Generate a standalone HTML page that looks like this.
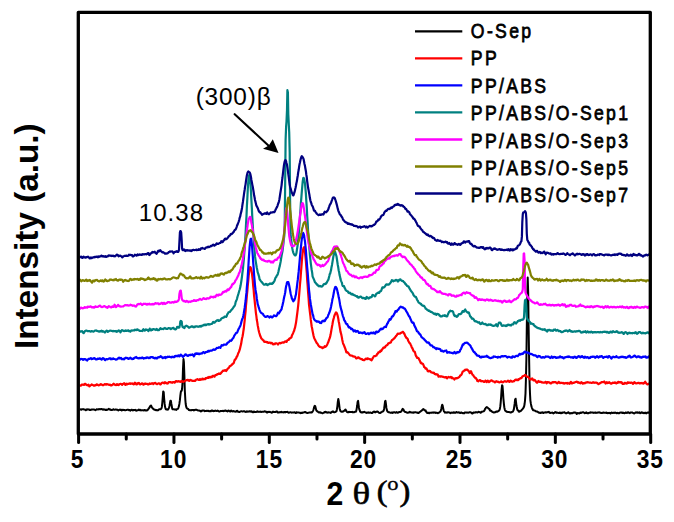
<!DOCTYPE html>
<html><head><meta charset="utf-8"><style>
html,body{margin:0;padding:0;background:#fff;overflow:hidden;}
svg{display:block;}
text{font-family:"Liberation Sans",sans-serif;}
.sf{font-family:"Liberation Serif",serif;}
</style></head><body>
<svg width="674" height="522" viewBox="0 0 674 522">
<polyline fill="none" stroke="#000000" stroke-width="2.0" stroke-linejoin="round" points="79.5,409.6 80.0,409.5 80.4,409.4 80.9,409.3 81.3,409.6 81.8,409.2 82.2,409.2 82.7,409.2 83.1,409.1 83.6,409.4 84.0,409.5 84.5,409.4 84.9,409.6 85.4,409.9 85.8,410.3 86.3,409.6 86.7,409.8 87.2,409.3 87.6,409.6 88.1,409.3 88.5,409.5 89.0,409.5 89.4,409.7 89.9,410.1 90.3,410.0 90.8,409.8 91.2,409.7 91.7,409.5 92.1,409.6 92.6,409.5 93.0,409.4 93.5,409.5 93.9,409.4 94.4,409.7 94.8,409.9 95.3,410.1 95.7,410.2 96.2,409.6 96.6,409.2 97.1,409.3 97.5,409.4 98.0,409.5 98.4,409.3 98.9,409.0 99.3,409.2 99.8,409.2 100.2,409.3 100.7,409.2 101.1,409.0 101.6,409.0 102.0,409.3 102.5,409.5 102.9,409.7 103.4,409.5 103.8,409.2 104.3,409.5 104.7,409.6 105.2,409.9 105.6,409.9 106.1,409.6 106.5,409.9 107.0,409.9 107.4,409.8 107.9,409.5 108.3,409.1 108.8,408.8 109.2,409.2 109.7,409.4 110.1,409.7 110.6,409.6 111.0,409.9 111.5,409.9 111.9,409.9 112.4,409.9 112.8,409.8 113.3,409.2 113.7,409.4 114.2,409.6 114.6,409.7 115.1,409.7 115.5,409.5 116.0,409.5 116.4,409.7 116.9,409.7 117.3,409.8 117.8,409.8 118.2,410.4 118.7,410.3 119.1,410.0 119.6,409.7 120.0,409.6 120.5,410.0 120.9,410.0 121.4,409.8 121.8,410.4 122.3,410.0 122.7,409.8 123.2,409.7 123.6,410.0 124.1,409.9 124.5,410.0 125.0,410.3 125.4,410.3 125.9,410.1 126.3,410.0 126.8,409.9 127.2,409.8 127.7,409.7 128.1,409.7 128.6,409.9 129.0,410.2 129.5,410.1 129.9,410.4 130.4,410.7 130.8,410.2 131.3,409.9 131.7,409.7 132.2,409.9 132.6,410.4 133.1,410.2 133.5,410.0 134.0,410.2 134.4,410.0 134.9,410.0 135.3,409.8 135.8,410.4 136.2,410.7 136.7,410.6 137.1,410.3 137.6,410.3 138.0,410.2 138.5,409.9 138.9,409.6 139.4,409.9 139.8,410.2 140.3,409.8 140.7,410.3 141.2,410.4 141.6,410.3 142.1,410.3 142.5,410.3 143.0,410.3 143.4,410.4 143.9,410.4 144.3,410.1 144.8,410.0 145.2,410.3 145.7,410.5 146.1,410.3 146.6,410.4 147.0,410.4 147.5,410.2 147.9,409.5 148.4,409.1 148.8,408.3 149.3,407.9 149.7,407.0 150.2,406.2 150.6,405.7 151.1,405.6 151.5,406.5 152.0,407.6 152.4,408.0 152.9,408.3 153.3,409.1 153.8,409.4 154.2,409.6 154.7,409.6 155.1,409.9 155.6,409.9 156.0,410.2 156.5,410.1 156.9,410.2 157.4,410.4 157.8,410.3 158.3,410.2 158.7,409.7 159.2,409.2 159.6,409.3 160.1,409.2 160.5,409.3 161.0,409.0 161.4,408.5 161.9,406.7 162.3,402.9 162.8,396.9 163.2,391.5 163.7,392.1 164.1,398.1 164.6,403.4 165.0,406.6 165.5,408.5 165.9,409.4 166.4,409.6 166.8,409.5 167.3,409.5 167.7,409.7 168.2,409.2 168.6,408.6 169.1,407.6 169.5,405.8 170.0,403.0 170.4,400.8 170.9,400.8 171.3,403.5 171.8,406.3 172.2,408.6 172.7,409.3 173.1,409.3 173.6,409.3 174.0,409.4 174.5,409.6 174.9,409.3 175.4,409.5 175.8,409.6 176.3,409.9 176.7,409.4 177.2,409.0 177.6,408.9 178.1,408.6 178.5,407.5 179.0,405.9 179.4,403.7 179.9,400.2 180.3,396.0 180.8,392.1 181.2,390.9 181.7,390.8 182.1,388.5 182.6,381.3 183.0,368.8 183.5,359.0 183.9,362.2 184.4,376.4 184.8,390.3 185.3,399.3 185.7,404.0 186.2,406.7 186.6,407.8 187.1,408.5 187.5,408.7 188.0,409.0 188.4,409.2 188.9,410.1 189.3,410.1 189.8,410.2 190.2,410.3 190.7,410.1 191.1,410.0 191.6,410.3 192.0,410.0 192.5,409.9 192.9,409.9 193.4,409.9 193.8,410.5 194.3,410.1 194.7,410.1 195.2,409.8 195.6,409.7 196.1,409.7 196.5,409.8 197.0,410.0 197.4,410.2 197.9,410.4 198.3,410.6 198.8,410.6 199.2,410.6 199.7,410.7 200.1,410.8 200.6,411.4 201.0,411.5 201.5,411.2 201.9,410.8 202.4,410.4 202.8,410.4 203.3,410.5 203.7,410.4 204.2,410.7 204.6,411.2 205.1,410.9 205.5,410.9 206.0,411.1 206.4,411.0 206.9,410.7 207.3,410.8 207.8,410.9 208.2,410.8 208.7,410.9 209.1,411.3 209.6,411.1 210.0,411.2 210.5,411.1 210.9,411.3 211.4,410.5 211.8,410.5 212.3,410.6 212.7,410.9 213.2,411.0 213.6,411.2 214.1,410.8 214.5,411.1 215.0,410.8 215.4,410.6 215.9,410.8 216.3,410.9 216.8,410.9 217.2,410.9 217.7,410.6 218.1,410.8 218.6,411.2 219.0,411.5 219.5,411.6 219.9,411.3 220.4,411.0 220.8,411.1 221.3,411.1 221.7,411.0 222.2,411.1 222.6,410.9 223.1,410.7 223.5,411.2 224.0,411.1 224.4,410.9 224.9,410.6 225.3,410.6 225.8,410.6 226.2,410.9 226.7,411.0 227.1,411.3 227.6,411.4 228.0,410.8 228.5,410.6 228.9,410.6 229.4,411.1 229.8,411.4 230.3,411.6 230.7,411.0 231.2,410.5 231.6,410.8 232.1,411.4 232.5,411.5 233.0,411.2 233.4,411.1 233.9,411.1 234.3,411.6 234.8,411.6 235.2,411.6 235.7,411.7 236.1,411.7 236.6,411.0 237.0,410.8 237.5,411.0 237.9,411.7 238.4,411.8 238.8,411.9 239.3,412.0 239.7,411.8 240.2,411.6 240.6,411.5 241.1,411.2 241.5,411.2 242.0,411.4 242.4,411.5 242.9,411.5 243.3,411.2 243.8,411.3 244.2,411.3 244.7,411.5 245.1,411.7 245.6,411.9 246.0,411.9 246.5,411.5 246.9,411.3 247.4,411.4 247.8,411.8 248.3,411.6 248.7,411.6 249.2,411.3 249.6,411.5 250.1,411.3 250.5,411.4 251.0,411.7 251.4,411.3 251.9,411.4 252.3,411.9 252.8,412.3 253.2,412.2 253.7,411.7 254.1,411.5 254.6,411.9 255.0,412.1 255.5,412.1 255.9,412.1 256.4,411.8 256.8,411.8 257.3,411.4 257.7,411.7 258.2,411.9 258.6,411.8 259.1,411.7 259.5,411.7 260.0,411.9 260.4,411.6 260.9,411.8 261.3,411.9 261.8,411.9 262.2,411.7 262.7,411.8 263.1,411.8 263.6,411.8 264.0,411.6 264.5,411.3 264.9,411.4 265.4,411.7 265.8,411.5 266.3,411.9 266.7,412.4 267.2,412.5 267.6,412.3 268.1,411.8 268.5,411.9 269.0,412.0 269.4,411.9 269.9,411.8 270.3,412.1 270.8,412.2 271.2,412.4 271.7,412.8 272.1,412.3 272.6,412.2 273.0,411.6 273.5,411.9 273.9,411.9 274.4,411.9 274.8,412.0 275.3,412.0 275.7,411.8 276.2,411.7 276.6,411.4 277.1,411.5 277.5,412.3 278.0,412.6 278.4,412.4 278.9,412.3 279.3,412.4 279.8,412.2 280.2,412.2 280.7,412.1 281.1,412.2 281.6,411.8 282.0,412.3 282.5,412.3 282.9,412.2 283.4,412.4 283.8,412.1 284.3,411.9 284.7,412.1 285.2,412.4 285.6,412.3 286.1,411.9 286.5,411.9 287.0,412.0 287.4,411.8 287.9,412.2 288.3,412.6 288.8,412.8 289.2,412.5 289.7,412.4 290.1,412.3 290.6,412.3 291.0,412.4 291.5,412.7 291.9,412.5 292.4,412.5 292.8,412.5 293.3,412.4 293.7,412.6 294.2,412.2 294.6,412.4 295.1,412.4 295.5,412.9 296.0,413.0 296.4,412.3 296.9,412.3 297.3,412.5 297.8,412.5 298.2,412.6 298.7,412.5 299.1,412.6 299.6,412.7 300.0,412.7 300.5,413.1 300.9,412.7 301.4,413.0 301.8,412.7 302.3,412.9 302.7,412.7 303.2,412.6 303.6,412.6 304.1,412.3 304.5,412.1 305.0,411.9 305.4,412.0 305.9,412.3 306.3,412.7 306.8,412.9 307.2,413.0 307.7,412.9 308.1,412.8 308.6,412.7 309.0,412.6 309.5,412.4 309.9,412.5 310.4,412.5 310.8,412.5 311.3,412.3 311.7,412.5 312.2,412.0 312.6,411.6 313.1,410.6 313.5,409.5 314.0,407.9 314.4,406.2 314.9,405.8 315.3,406.4 315.8,408.4 316.2,410.1 316.7,410.8 317.1,411.2 317.6,411.4 318.0,411.9 318.5,412.4 318.9,412.5 319.4,412.3 319.8,412.5 320.3,412.3 320.7,412.8 321.2,412.7 321.6,412.9 322.1,413.1 322.5,413.3 323.0,413.0 323.4,412.9 323.9,412.7 324.3,412.1 324.8,411.9 325.2,412.2 325.7,411.7 326.1,412.1 326.6,412.2 327.0,412.8 327.5,412.6 327.9,412.4 328.4,412.2 328.8,412.5 329.3,412.5 329.7,412.6 330.2,412.5 330.6,412.9 331.1,412.5 331.5,412.3 332.0,411.8 332.4,411.9 332.9,411.3 333.3,411.7 333.8,412.1 334.2,412.3 334.7,412.2 335.1,412.1 335.6,411.7 336.0,411.6 336.5,411.2 336.9,409.4 337.4,406.1 337.8,401.9 338.3,399.0 338.7,401.0 339.2,404.9 339.6,408.2 340.1,410.2 340.5,411.1 341.0,411.5 341.4,411.7 341.9,411.7 342.3,411.8 342.8,411.4 343.2,411.6 343.7,411.1 344.1,410.8 344.6,410.6 345.0,410.0 345.5,409.5 345.9,410.4 346.4,411.2 346.8,411.7 347.3,412.1 347.7,412.3 348.2,412.0 348.6,412.3 349.1,411.7 349.5,412.0 350.0,412.1 350.4,412.1 350.9,412.1 351.3,412.1 351.8,412.0 352.2,412.2 352.7,411.9 353.1,412.3 353.6,412.3 354.0,412.2 354.5,412.0 354.9,411.7 355.4,411.7 355.8,411.7 356.3,410.8 356.7,408.6 357.2,405.5 357.6,401.9 358.1,400.9 358.5,404.3 359.0,408.0 359.4,409.7 359.9,411.0 360.3,411.8 360.8,412.3 361.2,412.4 361.7,412.3 362.1,412.4 362.6,412.3 363.0,412.4 363.5,412.1 363.9,412.1 364.4,411.8 364.8,412.1 365.3,412.4 365.7,412.5 366.2,412.7 366.6,412.9 367.1,412.8 367.5,412.6 368.0,412.5 368.4,412.7 368.9,412.5 369.3,412.8 369.8,412.6 370.2,412.4 370.7,412.6 371.1,412.8 371.6,413.1 372.0,412.8 372.5,412.9 372.9,412.3 373.4,411.8 373.8,411.7 374.3,411.6 374.7,412.1 375.2,412.4 375.6,412.2 376.1,411.7 376.5,411.6 377.0,411.8 377.4,411.4 377.9,411.6 378.3,412.1 378.8,412.7 379.2,412.8 379.7,412.9 380.1,413.0 380.6,412.8 381.0,412.4 381.5,412.1 381.9,411.9 382.4,411.5 382.8,411.5 383.3,411.1 383.7,410.5 384.2,408.2 384.6,405.0 385.1,401.2 385.5,400.9 386.0,404.4 386.4,407.9 386.9,410.2 387.3,411.2 387.8,411.7 388.2,412.2 388.7,412.2 389.1,412.2 389.6,412.4 390.0,412.6 390.5,412.8 390.9,412.7 391.4,412.7 391.8,412.5 392.3,412.6 392.7,412.9 393.2,412.3 393.6,412.4 394.1,412.3 394.5,412.2 395.0,412.4 395.4,412.7 395.9,412.6 396.3,412.4 396.8,412.0 397.2,412.5 397.7,412.7 398.1,412.7 398.6,412.4 399.0,412.1 399.5,412.1 399.9,412.0 400.4,412.1 400.8,411.8 401.3,411.4 401.7,410.7 402.2,409.6 402.6,408.9 403.1,409.1 403.5,409.6 404.0,410.8 404.4,411.3 404.9,411.9 405.3,412.0 405.8,412.1 406.2,412.2 406.7,412.5 407.1,412.7 407.6,412.8 408.0,412.7 408.5,412.6 408.9,412.6 409.4,412.0 409.8,411.7 410.3,412.1 410.7,412.3 411.2,412.5 411.6,412.5 412.1,412.4 412.5,412.4 413.0,412.8 413.4,412.7 413.9,412.3 414.3,412.4 414.8,412.3 415.2,412.2 415.7,412.3 416.1,412.4 416.6,412.5 417.0,412.5 417.5,412.7 417.9,412.9 418.4,413.0 418.8,412.8 419.3,412.4 419.7,411.9 420.2,411.7 420.6,411.4 421.1,411.0 421.5,410.9 422.0,410.4 422.4,409.6 422.9,409.4 423.3,409.1 423.8,409.4 424.2,410.0 424.7,410.4 425.1,410.6 425.6,410.4 426.0,411.5 426.5,412.3 426.9,412.7 427.4,412.8 427.8,413.0 428.3,412.8 428.7,412.7 429.2,413.2 429.6,412.8 430.1,412.7 430.5,412.8 431.0,412.8 431.4,412.6 431.9,412.8 432.3,412.6 432.8,412.6 433.2,412.6 433.7,412.7 434.1,412.4 434.6,412.6 435.0,412.5 435.5,412.9 435.9,412.5 436.4,412.8 436.8,412.8 437.3,413.0 437.7,413.2 438.2,413.0 438.6,412.9 439.1,412.5 439.5,412.2 440.0,411.9 440.4,411.5 440.9,410.4 441.3,408.7 441.8,406.2 442.2,404.7 442.7,405.7 443.1,408.1 443.6,410.2 444.0,411.4 444.5,411.9 444.9,412.6 445.4,412.3 445.8,412.6 446.3,412.5 446.7,412.7 447.2,412.5 447.6,412.3 448.1,412.2 448.5,412.3 449.0,412.4 449.4,412.5 449.9,412.7 450.3,413.1 450.8,412.8 451.2,412.8 451.7,412.5 452.1,412.6 452.6,412.7 453.0,412.6 453.5,412.7 453.9,412.4 454.4,412.8 454.8,412.6 455.3,412.8 455.7,412.7 456.2,412.0 456.6,412.0 457.1,412.3 457.5,412.6 458.0,412.6 458.4,412.5 458.9,412.2 459.3,412.7 459.8,413.0 460.2,413.0 460.7,412.8 461.1,412.4 461.6,412.5 462.0,413.0 462.5,412.9 462.9,413.2 463.4,413.2 463.8,413.1 464.3,413.3 464.7,412.6 465.2,412.5 465.6,412.6 466.1,412.6 466.5,412.6 467.0,412.7 467.4,412.6 467.9,412.6 468.3,412.7 468.8,412.6 469.2,412.3 469.7,412.2 470.1,412.3 470.6,412.3 471.0,412.6 471.5,412.8 471.9,413.3 472.4,413.5 472.8,413.3 473.3,412.5 473.7,412.4 474.2,412.7 474.6,412.5 475.1,412.4 475.5,412.5 476.0,412.1 476.4,412.2 476.9,412.4 477.3,412.6 477.8,412.3 478.2,411.9 478.7,411.8 479.1,412.1 479.6,412.1 480.0,412.2 480.5,412.7 480.9,412.7 481.4,411.9 481.8,411.7 482.3,411.7 482.7,411.6 483.2,411.4 483.6,411.3 484.1,411.0 484.5,410.4 485.0,409.0 485.4,408.8 485.9,407.6 486.3,407.4 486.8,407.1 487.2,407.3 487.7,407.7 488.1,408.0 488.6,408.6 489.0,408.8 489.5,409.1 489.9,410.4 490.4,410.5 490.8,411.0 491.3,410.8 491.7,411.4 492.2,411.8 492.6,412.1 493.1,412.2 493.5,412.3 494.0,412.6 494.4,412.3 494.9,412.3 495.3,412.3 495.8,411.9 496.2,411.6 496.7,411.5 497.1,411.7 497.6,411.5 498.0,411.2 498.5,411.2 498.9,410.6 499.4,410.1 499.8,409.1 500.3,406.4 500.7,402.3 501.2,396.2 501.6,389.6 502.1,385.2 502.5,386.0 503.0,392.0 503.4,398.6 503.9,403.8 504.3,407.2 504.8,409.5 505.2,410.7 505.7,411.0 506.1,411.2 506.6,411.7 507.0,411.7 507.5,411.9 507.9,411.9 508.4,411.9 508.8,412.1 509.3,412.1 509.7,412.2 510.2,412.3 510.6,412.6 511.1,412.3 511.5,412.3 512.0,411.9 512.4,411.8 512.9,411.6 513.3,410.7 513.8,409.5 514.2,406.9 514.7,403.4 515.1,399.5 515.6,398.7 516.0,401.8 516.5,406.0 516.9,408.1 517.4,410.0 517.8,410.3 518.3,410.4 518.7,411.6 519.2,411.7 519.6,411.3 520.1,411.3 520.5,411.1 521.0,410.8 521.4,410.2 521.9,409.8 522.3,409.3 522.8,408.6 523.2,408.2 523.7,407.4 524.1,406.5 524.6,404.0 525.0,400.6 525.5,393.5 525.9,380.5 526.4,358.5 526.8,326.5 527.3,293.5 527.7,277.5 528.2,293.0 528.6,326.2 529.1,357.9 529.5,380.4 530.0,393.7 530.4,400.6 530.9,403.9 531.3,405.9 531.8,407.5 532.2,408.6 532.7,409.4 533.1,410.2 533.6,410.3 534.0,410.4 534.5,410.5 534.9,410.6 535.4,411.0 535.8,411.3 536.3,411.5 536.7,411.4 537.2,411.5 537.6,411.8 538.1,412.2 538.5,412.3 539.0,412.8 539.4,412.7 539.9,412.9 540.3,412.8 540.8,412.9 541.2,412.5 541.7,412.4 542.1,412.7 542.6,412.3 543.0,412.8 543.5,412.9 543.9,412.6 544.4,412.6 544.8,412.6 545.3,412.3 545.7,412.5 546.2,412.3 546.6,412.4 547.1,412.3 547.5,412.2 548.0,412.1 548.4,412.2 548.9,411.9 549.3,412.5 549.8,412.8 550.2,413.0 550.7,412.8 551.1,412.7 551.6,412.7 552.0,412.8 552.5,412.5 552.9,413.0 553.4,413.4 553.8,412.9 554.3,413.0 554.7,412.5 555.2,412.1 555.6,412.4 556.1,412.2 556.5,412.5 557.0,412.9 557.4,412.8 557.9,412.8 558.3,412.9 558.8,412.9 559.2,413.0 559.7,412.6 560.1,412.9 560.6,412.8 561.0,413.3 561.5,413.1 561.9,412.6 562.4,412.9 562.8,412.5 563.3,412.4 563.7,412.6 564.2,412.2 564.6,412.3 565.1,412.9 565.5,412.9 566.0,413.4 566.4,413.1 566.9,412.9 567.3,412.9 567.8,412.7 568.2,412.3 568.7,412.5 569.1,413.0 569.6,413.4 570.0,413.2 570.5,413.4 570.9,413.1 571.4,413.1 571.8,413.3 572.3,413.3 572.7,413.0 573.2,412.7 573.6,412.6 574.1,412.7 574.5,412.4 575.0,412.4 575.4,412.6 575.9,412.8 576.3,413.4 576.8,414.0 577.2,413.5 577.7,413.0 578.1,413.2 578.6,413.3 579.0,413.4 579.5,413.4 579.9,413.0 580.4,412.5 580.8,412.8 581.3,412.9 581.7,412.5 582.2,412.5 582.6,412.2 583.1,412.3 583.5,412.3 584.0,412.7 584.4,413.0 584.9,413.2 585.3,413.0 585.8,412.9 586.2,412.3 586.7,412.6 587.1,413.2 587.6,413.2 588.0,413.1 588.5,413.2 588.9,412.9 589.4,412.7 589.8,412.6 590.3,412.7 590.7,412.3 591.2,412.6 591.6,412.6 592.1,412.6 592.5,412.6 593.0,412.7 593.4,412.9 593.9,412.7 594.3,412.8 594.8,412.7 595.2,412.5 595.7,412.6 596.1,412.9 596.6,412.7 597.0,412.7 597.5,412.7 597.9,412.5 598.4,412.5 598.8,412.6 599.3,412.3 599.7,412.5 600.2,412.8 600.6,412.8 601.1,413.0 601.5,413.0 602.0,413.1 602.4,412.8 602.9,412.8 603.3,412.4 603.8,412.6 604.2,412.8 604.7,412.8 605.1,412.8 605.6,412.7 606.0,412.9 606.5,412.6 606.9,412.9 607.4,413.0 607.8,413.3 608.3,412.9 608.7,412.9 609.2,412.8 609.6,413.0 610.1,413.1 610.5,413.5 611.0,413.0 611.4,412.6 611.9,412.7 612.3,412.9 612.8,413.1 613.2,412.8 613.7,412.8 614.1,412.9 614.6,412.8 615.0,412.6 615.5,412.7 615.9,412.9 616.4,413.2 616.8,413.2 617.3,412.8 617.7,413.1 618.2,413.2 618.6,413.1 619.1,413.2 619.5,412.8 620.0,412.7 620.4,412.6 620.9,412.5 621.3,412.5 621.8,412.7 622.2,412.9 622.7,412.6 623.1,413.0 623.6,412.8 624.0,413.0 624.5,413.2 624.9,413.1 625.4,412.7 625.8,412.5 626.3,412.7 626.7,412.9 627.2,413.0 627.6,412.5 628.1,412.3 628.5,412.3 629.0,412.9 629.4,412.9 629.9,413.2 630.3,412.7 630.8,412.4 631.2,412.5 631.7,412.4 632.1,412.4 632.6,412.8 633.0,412.9 633.5,413.3 633.9,413.4 634.4,413.4 634.8,413.2 635.3,412.6 635.7,412.4 636.2,412.3 636.6,412.5 637.1,412.7 637.5,412.4 638.0,412.8 638.4,412.7 638.9,412.6 639.3,412.3 639.8,412.8 640.2,413.2 640.7,412.9 641.1,412.8 641.6,412.3 642.0,412.8 642.5,412.6 642.9,412.9 643.4,412.7 643.8,413.3 644.3,413.0 644.7,413.0 645.2,412.6 645.6,412.8 646.1,413.4 646.5,413.0 647.0,412.8 647.4,412.6 647.9,412.4 648.3,412.7 648.8,412.7 649.2,412.3 649.7,412.1"/>
<polyline fill="none" stroke="#ff0000" stroke-width="2.2" stroke-linejoin="round" points="79.5,385.3 80.0,385.3 80.4,385.7 80.9,385.4 81.3,385.4 81.8,384.6 82.2,384.5 82.7,384.6 83.1,384.6 83.6,384.7 84.0,384.9 84.5,384.0 84.9,383.9 85.4,383.9 85.8,384.3 86.3,384.9 86.7,385.1 87.2,385.3 87.6,385.0 88.1,384.9 88.5,384.6 89.0,385.8 89.4,386.4 89.9,385.9 90.3,385.5 90.8,385.1 91.2,385.1 91.7,384.4 92.1,384.9 92.6,384.9 93.0,385.1 93.5,385.5 93.9,385.7 94.4,385.7 94.8,385.3 95.3,385.1 95.7,385.3 96.2,385.0 96.6,384.3 97.1,384.6 97.5,384.6 98.0,385.1 98.4,385.3 98.9,385.3 99.3,385.2 99.8,385.0 100.2,384.5 100.7,384.2 101.1,384.5 101.6,384.3 102.0,385.0 102.5,385.1 102.9,385.2 103.4,385.1 103.8,384.8 104.3,384.5 104.7,384.2 105.2,384.2 105.6,384.4 106.1,384.7 106.5,384.1 107.0,384.3 107.4,384.2 107.9,384.4 108.3,384.5 108.8,384.7 109.2,384.9 109.7,384.8 110.1,384.6 110.6,385.3 111.0,385.5 111.5,385.1 111.9,385.3 112.4,384.8 112.8,384.7 113.3,383.9 113.7,383.7 114.2,384.2 114.6,384.5 115.1,384.9 115.5,385.0 116.0,385.1 116.4,384.8 116.9,384.1 117.3,384.8 117.8,384.5 118.2,385.1 118.7,385.0 119.1,384.5 119.6,384.0 120.0,384.0 120.5,383.9 120.9,383.9 121.4,384.3 121.8,384.7 122.3,384.8 122.7,384.1 123.2,383.9 123.6,383.4 124.1,383.2 124.5,383.3 125.0,384.2 125.4,384.9 125.9,384.7 126.3,384.1 126.8,383.7 127.2,384.3 127.7,384.0 128.1,383.9 128.6,384.0 129.0,383.7 129.5,383.5 129.9,383.3 130.4,383.9 130.8,383.5 131.3,383.6 131.7,383.5 132.2,383.4 132.6,383.6 133.1,384.1 133.5,384.3 134.0,384.2 134.4,383.4 134.9,382.7 135.3,382.9 135.8,383.3 136.2,384.5 136.7,384.4 137.1,384.3 137.6,383.5 138.0,383.2 138.5,383.1 138.9,382.8 139.4,383.7 139.8,384.2 140.3,384.4 140.7,384.1 141.2,383.9 141.6,383.5 142.1,383.3 142.5,383.6 143.0,383.8 143.4,384.7 143.9,384.1 144.3,384.1 144.8,383.6 145.2,383.7 145.7,383.5 146.1,383.9 146.6,383.8 147.0,383.8 147.5,384.0 147.9,384.4 148.4,384.4 148.8,384.2 149.3,383.6 149.7,383.4 150.2,383.8 150.6,384.0 151.1,384.0 151.5,383.4 152.0,383.2 152.4,383.5 152.9,383.6 153.3,384.2 153.8,383.3 154.2,383.2 154.7,383.1 155.1,382.8 155.6,383.0 156.0,383.6 156.5,384.0 156.9,384.1 157.4,384.1 157.8,383.5 158.3,383.5 158.7,383.3 159.2,383.4 159.6,383.6 160.1,384.2 160.5,384.4 161.0,383.9 161.4,383.3 161.9,382.9 162.3,382.8 162.8,382.6 163.2,382.8 163.7,383.1 164.1,383.3 164.6,383.2 165.0,382.2 165.5,382.6 165.9,383.1 166.4,382.9 166.8,383.5 167.3,383.3 167.7,383.5 168.2,382.8 168.6,382.2 169.1,382.2 169.5,382.2 170.0,382.1 170.4,382.3 170.9,382.2 171.3,382.5 171.8,382.6 172.2,382.8 172.7,382.3 173.1,382.0 173.6,382.0 174.0,382.2 174.5,382.7 174.9,382.5 175.4,381.6 175.8,381.0 176.3,381.1 176.7,381.5 177.2,381.7 177.6,381.5 178.1,381.2 178.5,381.5 179.0,381.2 179.4,381.6 179.9,381.6 180.3,381.4 180.8,381.9 181.2,381.5 181.7,381.0 182.1,381.3 182.6,381.7 183.0,381.4 183.5,381.8 183.9,381.4 184.4,381.2 184.8,381.2 185.3,380.7 185.7,380.5 186.2,380.2 186.6,380.0 187.1,380.1 187.5,379.8 188.0,379.9 188.4,380.6 188.9,380.7 189.3,380.8 189.8,380.0 190.2,379.9 190.7,380.0 191.1,380.3 191.6,380.3 192.0,380.8 192.5,380.8 192.9,380.8 193.4,380.8 193.8,380.9 194.3,380.6 194.7,381.0 195.2,380.9 195.6,380.3 196.1,379.8 196.5,379.6 197.0,379.4 197.4,379.2 197.9,379.3 198.3,379.8 198.8,380.0 199.2,380.0 199.7,379.5 200.1,379.0 200.6,379.8 201.0,379.7 201.5,379.2 201.9,379.1 202.4,378.6 202.8,379.4 203.3,379.3 203.7,378.9 204.2,379.1 204.6,378.8 205.1,379.1 205.5,378.3 206.0,378.0 206.4,378.3 206.9,378.0 207.3,377.9 207.8,377.4 208.2,377.8 208.7,377.9 209.1,376.9 209.6,377.4 210.0,376.9 210.5,377.4 210.9,376.9 211.4,376.8 211.8,377.1 212.3,376.6 212.7,375.9 213.2,375.8 213.6,375.9 214.1,375.9 214.5,376.7 215.0,375.6 215.4,375.0 215.9,375.1 216.3,374.7 216.8,374.8 217.2,374.6 217.7,374.1 218.1,373.9 218.6,373.9 219.0,373.3 219.5,373.7 219.9,374.0 220.4,373.9 220.8,373.4 221.3,372.4 221.7,372.2 222.2,371.6 222.6,371.1 223.1,370.6 223.5,370.8 224.0,370.5 224.4,370.6 224.9,370.3 225.3,370.1 225.8,370.8 226.2,371.0 226.7,370.1 227.1,369.7 227.6,368.7 228.0,368.5 228.5,368.3 228.9,367.6 229.4,366.8 229.8,366.0 230.3,366.0 230.7,365.8 231.2,365.2 231.6,365.1 232.1,364.3 232.5,364.0 233.0,363.8 233.4,363.3 233.9,362.7 234.3,361.1 234.8,359.6 235.2,359.7 235.7,358.9 236.1,358.3 236.6,356.8 237.0,356.7 237.5,355.5 237.9,354.2 238.4,352.9 238.8,352.2 239.3,350.8 239.7,349.7 240.2,347.7 240.6,346.1 241.1,344.1 241.5,341.5 242.0,338.5 242.4,336.9 242.9,334.6 243.3,331.7 243.8,328.5 244.2,324.6 244.7,320.1 245.1,315.5 245.6,311.2 246.0,305.3 246.5,300.2 246.9,295.1 247.4,290.3 247.8,285.2 248.3,280.3 248.7,275.6 249.2,271.7 249.6,268.7 250.1,267.1 250.5,267.3 251.0,268.3 251.4,270.3 251.9,272.9 252.3,276.5 252.8,280.6 253.2,285.8 253.7,290.5 254.1,295.8 254.6,300.2 255.0,304.3 255.5,308.8 255.9,312.8 256.4,316.4 256.8,319.8 257.3,322.4 257.7,325.4 258.2,327.9 258.6,330.0 259.1,332.2 259.5,333.5 260.0,335.1 260.4,336.4 260.9,337.3 261.3,338.4 261.8,338.8 262.2,339.1 262.7,340.0 263.1,340.1 263.6,340.4 264.0,341.7 264.5,341.7 264.9,342.0 265.4,341.9 265.8,342.0 266.3,341.9 266.7,342.3 267.2,342.0 267.6,342.2 268.1,342.9 268.5,343.0 269.0,342.8 269.4,342.6 269.9,342.7 270.3,342.7 270.8,343.3 271.2,343.0 271.7,342.9 272.1,343.0 272.6,343.8 273.0,344.3 273.5,344.4 273.9,343.8 274.4,344.0 274.8,344.2 275.3,343.4 275.7,343.4 276.2,343.5 276.6,343.4 277.1,343.6 277.5,343.6 278.0,344.5 278.4,343.7 278.9,343.3 279.3,343.2 279.8,342.9 280.2,343.0 280.7,343.4 281.1,342.9 281.6,342.9 282.0,342.5 282.5,342.4 282.9,342.3 283.4,342.6 283.8,342.6 284.3,342.3 284.7,341.9 285.2,341.3 285.6,341.5 286.1,341.8 286.5,341.9 287.0,340.9 287.4,340.2 287.9,340.0 288.3,339.8 288.8,339.9 289.2,338.7 289.7,338.7 290.1,338.0 290.6,337.9 291.0,337.7 291.5,337.2 291.9,335.5 292.4,334.5 292.8,333.9 293.3,332.7 293.7,331.5 294.2,330.6 294.6,328.8 295.1,327.4 295.5,325.2 296.0,322.8 296.4,319.8 296.9,316.0 297.3,313.0 297.8,308.9 298.2,305.4 298.7,300.1 299.1,295.3 299.6,289.4 300.0,284.1 300.5,278.9 300.9,273.2 301.4,266.9 301.8,261.7 302.3,256.2 302.7,252.2 303.2,249.3 303.6,247.7 304.1,247.1 304.5,249.4 305.0,252.3 305.4,256.4 305.9,261.4 306.3,267.0 306.8,273.2 307.2,280.2 307.7,286.5 308.1,292.5 308.6,298.5 309.0,304.5 309.5,308.5 309.9,312.1 310.4,316.0 310.8,319.9 311.3,323.5 311.7,326.5 312.2,328.8 312.6,331.1 313.1,333.5 313.5,335.5 314.0,337.4 314.4,338.5 314.9,339.3 315.3,340.3 315.8,341.2 316.2,342.0 316.7,343.0 317.1,343.3 317.6,343.9 318.0,344.9 318.5,345.5 318.9,346.1 319.4,346.5 319.8,346.8 320.3,346.8 320.7,347.2 321.2,347.2 321.6,347.3 322.1,347.7 322.5,348.2 323.0,347.5 323.4,347.7 323.9,347.4 324.3,347.0 324.8,346.1 325.2,346.9 325.7,346.6 326.1,346.2 326.6,345.6 327.0,345.0 327.5,343.9 327.9,342.8 328.4,341.9 328.8,340.5 329.3,339.2 329.7,338.2 330.2,336.4 330.6,334.6 331.1,331.7 331.5,329.4 332.0,326.5 332.4,324.5 332.9,321.5 333.3,319.8 333.8,318.0 334.2,316.3 334.7,315.0 335.1,314.1 335.6,313.0 336.0,312.4 336.5,312.7 336.9,313.4 337.4,314.8 337.8,316.3 338.3,318.7 338.7,321.5 339.2,323.8 339.6,326.4 340.1,329.3 340.5,331.8 341.0,333.4 341.4,335.1 341.9,337.6 342.3,340.0 342.8,342.2 343.2,343.7 343.7,344.7 344.1,345.7 344.6,347.1 345.0,347.9 345.5,349.4 345.9,350.6 346.4,352.4 346.8,352.2 347.3,352.1 347.7,352.4 348.2,353.1 348.6,353.4 349.1,354.1 349.5,354.6 350.0,355.3 350.4,355.4 350.9,355.6 351.3,355.6 351.8,355.6 352.2,355.8 352.7,356.0 353.1,356.5 353.6,356.4 354.0,356.7 354.5,356.5 354.9,356.7 355.4,357.0 355.8,357.9 356.3,358.4 356.7,358.4 357.2,358.0 357.6,357.9 358.1,357.3 358.5,357.4 359.0,357.7 359.4,358.4 359.9,358.5 360.3,358.6 360.8,358.8 361.2,359.1 361.7,359.0 362.1,359.0 362.6,359.9 363.0,360.0 363.5,360.0 363.9,360.2 364.4,360.1 364.8,359.4 365.3,359.2 365.7,358.7 366.2,358.9 366.6,358.7 367.1,359.2 367.5,358.3 368.0,358.6 368.4,358.6 368.9,358.9 369.3,359.2 369.8,359.2 370.2,359.1 370.7,359.7 371.1,359.9 371.6,360.3 372.0,359.2 372.5,358.7 372.9,357.8 373.4,357.0 373.8,356.3 374.3,356.2 374.7,356.2 375.2,356.2 375.6,355.9 376.1,355.6 376.5,355.5 377.0,354.2 377.4,353.7 377.9,353.7 378.3,352.4 378.8,352.4 379.2,352.3 379.7,351.5 380.1,352.0 380.6,350.6 381.0,351.1 381.5,350.6 381.9,349.8 382.4,349.0 382.8,348.6 383.3,347.7 383.7,347.8 384.2,347.4 384.6,347.6 385.1,347.3 385.5,346.3 386.0,345.8 386.4,345.6 386.9,345.0 387.3,345.1 387.8,344.4 388.2,343.4 388.7,343.4 389.1,343.0 389.6,342.8 390.0,342.8 390.5,342.5 390.9,342.4 391.4,341.0 391.8,340.4 392.3,339.8 392.7,339.8 393.2,339.3 393.6,338.9 394.1,338.4 394.5,338.2 395.0,337.5 395.4,336.9 395.9,336.3 396.3,335.7 396.8,335.2 397.2,334.5 397.7,333.7 398.1,333.7 398.6,333.8 399.0,333.7 399.5,333.5 399.9,333.7 400.4,333.3 400.8,332.9 401.3,333.0 401.7,332.4 402.2,332.1 402.6,331.8 403.1,331.8 403.5,332.9 404.0,333.0 404.4,334.1 404.9,335.0 405.3,336.2 405.8,336.8 406.2,337.7 406.7,337.8 407.1,338.6 407.6,338.8 408.0,340.2 408.5,341.3 408.9,342.0 409.4,342.9 409.8,343.0 410.3,343.9 410.7,344.8 411.2,345.7 411.6,346.9 412.1,347.9 412.5,348.3 413.0,349.8 413.4,350.7 413.9,351.3 414.3,351.7 414.8,351.8 415.2,353.2 415.7,355.2 416.1,356.1 416.6,356.6 417.0,357.8 417.5,358.0 417.9,357.9 418.4,358.0 418.8,358.8 419.3,359.8 419.7,360.6 420.2,361.6 420.6,362.7 421.1,363.3 421.5,363.0 422.0,363.7 422.4,363.8 422.9,363.9 423.3,364.6 423.8,365.9 424.2,367.1 424.7,367.3 425.1,367.8 425.6,368.6 426.0,368.2 426.5,368.4 426.9,369.3 427.4,370.3 427.8,371.2 428.3,371.0 428.7,371.4 429.2,370.9 429.6,370.9 430.1,371.1 430.5,371.5 431.0,372.1 431.4,372.5 431.9,372.5 432.3,372.6 432.8,372.5 433.2,372.9 433.7,372.7 434.1,373.0 434.6,374.0 435.0,374.0 435.5,374.3 435.9,374.3 436.4,374.2 436.8,374.3 437.3,374.9 437.7,374.5 438.2,375.8 438.6,376.7 439.1,376.3 439.5,376.2 440.0,376.4 440.4,376.7 440.9,376.2 441.3,376.5 441.8,376.5 442.2,376.7 442.7,376.7 443.1,376.9 443.6,376.8 444.0,377.2 444.5,377.3 444.9,377.4 445.4,377.3 445.8,377.0 446.3,377.1 446.7,378.2 447.2,378.3 447.6,377.4 448.1,377.4 448.5,376.8 449.0,377.3 449.4,377.4 449.9,377.4 450.3,377.2 450.8,376.9 451.2,377.3 451.7,378.0 452.1,377.4 452.6,378.1 453.0,378.4 453.5,378.4 453.9,378.6 454.4,379.5 454.8,378.5 455.3,378.6 455.7,378.0 456.2,378.1 456.6,378.3 457.1,378.2 457.5,378.2 458.0,377.8 458.4,377.5 458.9,377.2 459.3,377.0 459.8,376.4 460.2,375.5 460.7,375.2 461.1,375.1 461.6,374.4 462.0,373.3 462.5,372.1 462.9,371.4 463.4,371.2 463.8,371.1 464.3,370.4 464.7,370.4 465.2,369.7 465.6,370.2 466.1,369.7 466.5,369.7 467.0,369.7 467.4,369.6 467.9,370.4 468.3,370.7 468.8,371.4 469.2,371.6 469.7,373.2 470.1,372.9 470.6,372.5 471.0,371.2 471.5,372.4 471.9,373.3 472.4,374.6 472.8,374.9 473.3,375.2 473.7,376.2 474.2,376.7 474.6,377.1 475.1,377.7 475.5,378.1 476.0,378.2 476.4,378.9 476.9,379.7 477.3,380.9 477.8,381.1 478.2,381.3 478.7,380.9 479.1,380.5 479.6,380.0 480.0,380.2 480.5,380.3 480.9,381.2 481.4,381.1 481.8,381.3 482.3,381.1 482.7,381.1 483.2,381.3 483.6,381.7 484.1,381.9 484.5,382.0 485.0,381.4 485.4,380.6 485.9,381.2 486.3,381.3 486.8,382.0 487.2,380.9 487.7,380.6 488.1,381.0 488.6,381.5 489.0,382.1 489.5,381.8 489.9,381.4 490.4,380.9 490.8,380.5 491.3,380.4 491.7,380.4 492.2,380.8 492.6,381.2 493.1,381.3 493.5,381.4 494.0,381.6 494.4,381.9 494.9,382.4 495.3,382.3 495.8,381.6 496.2,381.2 496.7,381.5 497.1,381.5 497.6,381.8 498.0,381.6 498.5,382.0 498.9,382.2 499.4,382.4 499.8,382.3 500.3,382.1 500.7,381.8 501.2,381.3 501.6,381.8 502.1,382.2 502.5,382.0 503.0,382.4 503.4,381.8 503.9,381.6 504.3,381.4 504.8,381.1 505.2,381.4 505.7,381.4 506.1,381.8 506.6,381.6 507.0,381.5 507.5,381.2 507.9,380.7 508.4,380.8 508.8,381.1 509.3,381.9 509.7,381.7 510.2,381.4 510.6,380.6 511.1,380.9 511.5,381.3 512.0,381.7 512.4,381.7 512.9,381.6 513.3,381.1 513.8,381.0 514.2,381.1 514.7,380.3 515.1,380.0 515.6,379.7 516.0,379.5 516.5,380.0 516.9,379.7 517.4,379.8 517.8,380.1 518.3,380.1 518.7,379.2 519.2,379.4 519.6,378.9 520.1,378.5 520.5,378.2 521.0,377.9 521.4,378.1 521.9,377.3 522.3,376.6 522.8,376.2 523.2,376.1 523.7,376.0 524.1,375.7 524.6,375.5 525.0,374.9 525.5,375.1 525.9,375.7 526.4,376.4 526.8,376.4 527.3,376.8 527.7,377.0 528.2,376.8 528.6,377.4 529.1,378.1 529.5,378.7 530.0,379.1 530.4,379.7 530.9,379.5 531.3,379.2 531.8,378.7 532.2,378.4 532.7,379.1 533.1,379.9 533.6,380.4 534.0,380.0 534.5,379.9 534.9,380.0 535.4,380.9 535.8,381.2 536.3,382.1 536.7,382.6 537.2,382.7 537.6,382.3 538.1,381.4 538.5,381.0 539.0,381.4 539.4,382.0 539.9,382.0 540.3,381.6 540.8,382.0 541.2,381.9 541.7,382.4 542.1,382.3 542.6,382.3 543.0,382.6 543.5,382.5 543.9,382.6 544.4,382.6 544.8,382.5 545.3,381.9 545.7,381.9 546.2,382.4 546.6,383.4 547.1,382.8 547.5,382.2 548.0,382.1 548.4,382.4 548.9,382.5 549.3,382.3 549.8,382.8 550.2,383.3 550.7,383.1 551.1,383.4 551.6,382.6 552.0,382.7 552.5,382.1 552.9,382.3 553.4,382.1 553.8,382.4 554.3,382.1 554.7,382.0 555.2,382.1 555.6,382.3 556.1,382.3 556.5,383.0 557.0,383.3 557.4,383.4 557.9,382.7 558.3,382.4 558.8,381.8 559.2,382.7 559.7,382.8 560.1,383.1 560.6,383.0 561.0,382.7 561.5,382.9 561.9,382.8 562.4,383.1 562.8,383.1 563.3,382.9 563.7,383.1 564.2,383.7 564.6,383.4 565.1,383.3 565.5,383.2 566.0,382.9 566.4,383.1 566.9,383.4 567.3,383.6 567.8,382.8 568.2,383.1 568.7,383.4 569.1,383.6 569.6,383.8 570.0,382.9 570.5,382.3 570.9,381.9 571.4,382.7 571.8,383.4 572.3,383.3 572.7,382.9 573.2,382.9 573.6,382.7 574.1,382.7 574.5,382.6 575.0,382.2 575.4,382.1 575.9,381.9 576.3,382.0 576.8,381.6 577.2,381.9 577.7,382.5 578.1,382.7 578.6,382.2 579.0,382.8 579.5,382.7 579.9,382.9 580.4,383.3 580.8,382.7 581.3,382.1 581.7,382.7 582.2,382.7 582.6,383.6 583.1,383.7 583.5,383.1 584.0,383.0 584.4,383.0 584.9,383.3 585.3,382.5 585.8,382.6 586.2,382.6 586.7,382.5 587.1,382.2 587.6,382.5 588.0,382.4 588.5,382.4 588.9,382.5 589.4,382.6 589.8,382.6 590.3,382.7 590.7,382.6 591.2,382.9 591.6,382.9 592.1,382.8 592.5,382.7 593.0,382.2 593.4,382.5 593.9,382.7 594.3,382.5 594.8,382.8 595.2,382.6 595.7,382.7 596.1,382.6 596.6,382.8 597.0,382.9 597.5,383.4 597.9,383.5 598.4,384.2 598.8,383.6 599.3,383.6 599.7,383.2 600.2,383.2 600.6,382.8 601.1,382.7 601.5,382.0 602.0,382.1 602.4,382.0 602.9,382.1 603.3,382.1 603.8,382.2 604.2,381.5 604.7,382.4 605.1,382.6 605.6,383.6 606.0,382.6 606.5,382.5 606.9,382.2 607.4,383.1 607.8,382.7 608.3,382.9 608.7,382.6 609.2,382.2 609.6,382.7 610.1,383.1 610.5,383.1 611.0,383.6 611.4,383.7 611.9,383.4 612.3,382.9 612.8,382.6 613.2,383.0 613.7,382.8 614.1,382.8 614.6,382.5 615.0,382.4 615.5,383.1 615.9,382.9 616.4,383.3 616.8,383.0 617.3,382.5 617.7,382.8 618.2,381.8 618.6,382.4 619.1,382.4 619.5,382.0 620.0,382.0 620.4,382.2 620.9,382.5 621.3,382.1 621.8,382.4 622.2,383.4 622.7,384.0 623.1,384.0 623.6,384.0 624.0,383.9 624.5,382.8 624.9,382.8 625.4,383.0 625.8,383.4 626.3,383.3 626.7,383.6 627.2,383.4 627.6,382.4 628.1,382.3 628.5,382.8 629.0,382.5 629.4,382.5 629.9,382.8 630.3,382.8 630.8,382.8 631.2,382.6 631.7,382.6 632.1,382.7 632.6,383.5 633.0,383.8 633.5,383.4 633.9,382.6 634.4,382.2 634.8,382.5 635.3,382.9 635.7,383.3 636.2,383.3 636.6,383.4 637.1,383.1 637.5,383.2 638.0,382.9 638.4,382.8 638.9,382.9 639.3,383.3 639.8,383.4 640.2,383.5 640.7,383.1 641.1,382.9 641.6,383.2 642.0,383.3 642.5,383.4 642.9,383.0 643.4,383.6 643.8,383.3 644.3,383.0 644.7,382.4 645.2,381.7 645.6,382.5 646.1,383.0 646.5,383.8 647.0,383.8 647.4,384.4 647.9,384.2 648.3,384.0 648.8,383.7 649.2,383.5 649.7,383.7"/>
<polyline fill="none" stroke="#0000ff" stroke-width="2.2" stroke-linejoin="round" points="79.5,359.4 80.0,359.6 80.4,359.2 80.9,358.9 81.3,358.9 81.8,359.1 82.2,359.0 82.7,359.2 83.1,359.8 83.6,359.0 84.0,359.1 84.5,359.3 84.9,359.1 85.4,359.3 85.8,359.4 86.3,360.0 86.7,360.3 87.2,360.5 87.6,359.7 88.1,359.5 88.5,358.8 89.0,359.0 89.4,358.9 89.9,358.7 90.3,358.4 90.8,358.1 91.2,358.2 91.7,359.1 92.1,359.0 92.6,358.8 93.0,358.9 93.5,358.3 93.9,358.2 94.4,358.0 94.8,358.4 95.3,359.1 95.7,359.3 96.2,359.4 96.6,359.2 97.1,359.3 97.5,358.8 98.0,358.6 98.4,358.7 98.9,358.9 99.3,358.5 99.8,358.3 100.2,358.5 100.7,358.9 101.1,359.3 101.6,359.6 102.0,359.2 102.5,358.5 102.9,358.2 103.4,358.3 103.8,358.6 104.3,359.1 104.7,359.8 105.2,360.2 105.6,359.7 106.1,359.2 106.5,359.2 107.0,359.2 107.4,359.3 107.9,359.2 108.3,358.9 108.8,358.6 109.2,358.7 109.7,358.4 110.1,358.3 110.6,358.5 111.0,359.3 111.5,358.8 111.9,359.0 112.4,359.1 112.8,358.5 113.3,358.4 113.7,358.7 114.2,358.9 114.6,359.1 115.1,359.3 115.5,359.4 116.0,359.7 116.4,359.4 116.9,359.3 117.3,359.2 117.8,358.7 118.2,358.0 118.7,358.0 119.1,357.6 119.6,358.4 120.0,358.4 120.5,358.1 120.9,357.9 121.4,358.4 121.8,359.2 122.3,359.0 122.7,359.2 123.2,358.9 123.6,359.2 124.1,359.3 124.5,358.4 125.0,358.5 125.4,358.0 125.9,357.7 126.3,357.8 126.8,357.8 127.2,358.3 127.7,358.1 128.1,358.8 128.6,359.0 129.0,358.6 129.5,358.5 129.9,358.1 130.4,357.7 130.8,358.3 131.3,358.4 131.7,358.7 132.2,359.2 132.6,358.9 133.1,358.8 133.5,358.9 134.0,358.1 134.4,357.9 134.9,357.8 135.3,357.4 135.8,357.4 136.2,357.0 136.7,357.7 137.1,358.0 137.6,358.2 138.0,358.1 138.5,358.4 138.9,358.4 139.4,357.9 139.8,358.1 140.3,358.1 140.7,357.9 141.2,358.2 141.6,358.0 142.1,357.5 142.5,357.8 143.0,357.9 143.4,358.5 143.9,358.1 144.3,358.3 144.8,358.0 145.2,358.2 145.7,358.0 146.1,357.6 146.6,358.0 147.0,357.3 147.5,357.7 147.9,357.5 148.4,357.7 148.8,358.1 149.3,357.9 149.7,358.1 150.2,357.2 150.6,357.4 151.1,357.1 151.5,357.0 152.0,357.0 152.4,357.3 152.9,357.7 153.3,357.3 153.8,358.0 154.2,358.1 154.7,358.4 155.1,357.8 155.6,357.8 156.0,357.9 156.5,358.4 156.9,358.5 157.4,357.8 157.8,357.5 158.3,357.1 158.7,357.4 159.2,357.4 159.6,356.8 160.1,356.9 160.5,356.2 161.0,356.4 161.4,356.6 161.9,357.2 162.3,357.7 162.8,358.1 163.2,357.8 163.7,357.7 164.1,357.3 164.6,357.2 165.0,357.3 165.5,358.0 165.9,357.0 166.4,357.4 166.8,357.5 167.3,357.1 167.7,356.7 168.2,356.8 168.6,356.9 169.1,357.0 169.5,356.6 170.0,357.0 170.4,357.0 170.9,357.3 171.3,357.4 171.8,356.9 172.2,356.6 172.7,356.9 173.1,357.2 173.6,356.9 174.0,356.7 174.5,357.1 174.9,356.2 175.4,356.3 175.8,355.8 176.3,355.9 176.7,356.0 177.2,356.4 177.6,355.7 178.1,355.5 178.5,355.4 179.0,356.2 179.4,356.4 179.9,356.1 180.3,355.1 180.8,354.6 181.2,355.3 181.7,355.4 182.1,356.0 182.6,356.5 183.0,356.9 183.5,356.3 183.9,356.1 184.4,355.3 184.8,355.3 185.3,354.4 185.7,354.5 186.2,354.6 186.6,355.0 187.1,355.7 187.5,355.8 188.0,355.9 188.4,355.5 188.9,355.3 189.3,354.9 189.8,355.2 190.2,355.2 190.7,354.6 191.1,354.9 191.6,355.0 192.0,354.5 192.5,354.4 192.9,354.5 193.4,355.3 193.8,356.4 194.3,355.7 194.7,354.8 195.2,353.6 195.6,354.0 196.1,353.5 196.5,353.4 197.0,353.9 197.4,353.8 197.9,353.3 198.3,354.0 198.8,354.1 199.2,353.7 199.7,354.0 200.1,353.5 200.6,353.6 201.0,353.5 201.5,353.4 201.9,353.6 202.4,352.9 202.8,352.5 203.3,352.1 203.7,352.3 204.2,352.5 204.6,353.1 205.1,352.6 205.5,352.2 206.0,352.1 206.4,352.1 206.9,351.8 207.3,351.8 207.8,351.7 208.2,350.8 208.7,350.9 209.1,351.3 209.6,350.9 210.0,350.7 210.5,350.5 210.9,350.7 211.4,350.7 211.8,350.6 212.3,350.3 212.7,350.1 213.2,349.6 213.6,349.3 214.1,349.7 214.5,349.8 215.0,349.8 215.4,349.4 215.9,348.9 216.3,348.5 216.8,347.8 217.2,348.1 217.7,347.9 218.1,348.0 218.6,347.4 219.0,347.3 219.5,347.3 219.9,347.4 220.4,347.9 220.8,346.6 221.3,345.8 221.7,345.1 222.2,345.6 222.6,345.5 223.1,345.4 223.5,344.8 224.0,344.6 224.4,344.5 224.9,344.5 225.3,344.7 225.8,344.6 226.2,344.6 226.7,344.2 227.1,343.3 227.6,342.6 228.0,342.6 228.5,342.2 228.9,342.0 229.4,341.5 229.8,340.8 230.3,340.5 230.7,340.5 231.2,340.8 231.6,340.1 232.1,339.6 232.5,338.7 233.0,338.2 233.4,337.9 233.9,336.7 234.3,335.6 234.8,334.9 235.2,334.3 235.7,333.5 236.1,333.0 236.6,332.6 237.0,332.7 237.5,331.7 237.9,330.6 238.4,329.4 238.8,328.6 239.3,327.7 239.7,326.9 240.2,326.2 240.6,325.0 241.1,323.1 241.5,321.5 242.0,319.7 242.4,318.7 242.9,317.6 243.3,315.8 243.8,313.2 244.2,310.7 244.7,307.7 245.1,304.5 245.6,301.0 246.0,296.8 246.5,292.4 246.9,286.6 247.4,281.5 247.8,275.4 248.3,268.0 248.7,260.5 249.2,253.0 249.6,247.0 250.1,242.4 250.5,239.3 251.0,238.7 251.4,240.5 251.9,244.1 252.3,249.5 252.8,255.8 253.2,262.5 253.7,268.6 254.1,275.0 254.6,280.6 255.0,285.3 255.5,289.7 255.9,292.1 256.4,294.8 256.8,298.7 257.3,301.4 257.7,304.1 258.2,305.5 258.6,306.9 259.1,308.5 259.5,309.8 260.0,311.0 260.4,311.8 260.9,312.5 261.3,312.9 261.8,313.0 262.2,313.6 262.7,313.8 263.1,314.3 263.6,315.3 264.0,315.7 264.5,316.1 264.9,316.6 265.4,317.0 265.8,316.9 266.3,316.9 266.7,316.3 267.2,316.3 267.6,316.1 268.1,316.5 268.5,316.6 269.0,316.8 269.4,317.5 269.9,317.0 270.3,316.7 270.8,316.3 271.2,316.9 271.7,317.0 272.1,317.5 272.6,317.1 273.0,316.5 273.5,316.3 273.9,315.4 274.4,315.5 274.8,315.5 275.3,316.0 275.7,316.1 276.2,316.1 276.6,315.7 277.1,315.1 277.5,313.7 278.0,312.7 278.4,313.4 278.9,313.5 279.3,312.8 279.8,311.9 280.2,310.9 280.7,310.6 281.1,309.9 281.6,309.1 282.0,306.9 282.5,305.3 282.9,303.5 283.4,301.3 283.8,298.9 284.3,296.6 284.7,294.9 285.2,292.5 285.6,289.3 286.1,286.4 286.5,284.8 287.0,282.5 287.4,282.0 287.9,282.0 288.3,282.1 288.8,283.8 289.2,285.6 289.7,288.1 290.1,290.5 290.6,293.2 291.0,295.0 291.5,296.7 291.9,298.5 292.4,299.4 292.8,300.3 293.3,301.3 293.7,300.7 294.2,300.2 294.6,299.3 295.1,297.8 295.5,295.9 296.0,294.3 296.4,290.7 296.9,287.0 297.3,283.3 297.8,279.7 298.2,275.8 298.7,271.4 299.1,266.8 299.6,261.3 300.0,256.7 300.5,251.8 300.9,247.5 301.4,242.6 301.8,239.0 302.3,235.8 302.7,233.8 303.2,233.0 303.6,233.7 304.1,235.4 304.5,238.6 305.0,241.5 305.4,245.5 305.9,250.7 306.3,256.2 306.8,262.1 307.2,267.6 307.7,272.8 308.1,278.4 308.6,284.3 309.0,290.0 309.5,294.0 309.9,298.4 310.4,301.6 310.8,304.4 311.3,307.1 311.7,309.4 312.2,312.0 312.6,314.2 313.1,315.3 313.5,317.3 314.0,319.0 314.4,319.5 314.9,320.3 315.3,320.5 315.8,320.7 316.2,321.1 316.7,321.6 317.1,321.6 317.6,321.3 318.0,321.6 318.5,321.8 318.9,321.6 319.4,322.1 319.8,322.7 320.3,323.0 320.7,322.7 321.2,323.1 321.6,322.1 322.1,321.5 322.5,320.8 323.0,321.2 323.4,320.6 323.9,321.3 324.3,321.1 324.8,321.1 325.2,319.7 325.7,319.5 326.1,318.4 326.6,318.3 327.0,317.6 327.5,317.3 327.9,316.2 328.4,314.7 328.8,313.9 329.3,312.8 329.7,311.6 330.2,310.1 330.6,308.9 331.1,306.5 331.5,304.2 332.0,301.9 332.4,299.3 332.9,297.5 333.3,295.5 333.8,292.8 334.2,290.3 334.7,288.9 335.1,287.2 335.6,286.9 336.0,287.2 336.5,288.0 336.9,288.9 337.4,290.9 337.8,293.1 338.3,294.8 338.7,297.3 339.2,299.2 339.6,301.7 340.1,304.8 340.5,306.9 341.0,308.7 341.4,310.1 341.9,311.9 342.3,313.8 342.8,315.6 343.2,316.8 343.7,318.0 344.1,319.9 344.6,320.6 345.0,321.4 345.5,322.2 345.9,323.5 346.4,323.7 346.8,324.3 347.3,324.2 347.7,325.2 348.2,326.1 348.6,327.2 349.1,327.5 349.5,327.2 350.0,327.8 350.4,327.9 350.9,328.7 351.3,329.2 351.8,328.8 352.2,329.0 352.7,329.6 353.1,330.2 353.6,331.4 354.0,330.8 354.5,330.5 354.9,330.4 355.4,330.9 355.8,331.7 356.3,331.6 356.7,331.2 357.2,331.1 357.6,330.9 358.1,331.5 358.5,331.8 359.0,333.0 359.4,333.0 359.9,332.9 360.3,332.4 360.8,332.6 361.2,332.6 361.7,333.0 362.1,332.7 362.6,333.3 363.0,333.1 363.5,332.8 363.9,332.6 364.4,332.1 364.8,332.7 365.3,333.5 365.7,333.8 366.2,333.8 366.6,333.9 367.1,333.5 367.5,333.4 368.0,333.2 368.4,333.4 368.9,334.2 369.3,333.5 369.8,333.4 370.2,333.5 370.7,332.9 371.1,332.6 371.6,333.1 372.0,333.1 372.5,332.9 372.9,333.3 373.4,332.7 373.8,332.4 374.3,333.0 374.7,333.5 375.2,333.7 375.6,332.9 376.1,331.7 376.5,331.5 377.0,331.8 377.4,332.3 377.9,332.1 378.3,331.7 378.8,331.5 379.2,330.8 379.7,330.2 380.1,329.5 380.6,328.9 381.0,329.0 381.5,328.7 381.9,329.3 382.4,329.1 382.8,328.8 383.3,328.1 383.7,327.5 384.2,327.4 384.6,326.9 385.1,326.8 385.5,326.8 386.0,327.0 386.4,325.5 386.9,324.5 387.3,323.5 387.8,323.2 388.2,321.9 388.7,321.2 389.1,320.4 389.6,319.2 390.0,319.8 390.5,319.7 390.9,319.0 391.4,318.0 391.8,316.9 392.3,316.4 392.7,316.4 393.2,315.9 393.6,315.2 394.1,314.4 394.5,313.4 395.0,312.6 395.4,311.2 395.9,311.3 396.3,311.7 396.8,311.7 397.2,310.6 397.7,310.0 398.1,309.8 398.6,309.4 399.0,308.3 399.5,307.9 399.9,307.3 400.4,307.0 400.8,306.6 401.3,307.0 401.7,307.0 402.2,307.6 402.6,307.3 403.1,307.5 403.5,307.8 404.0,308.4 404.4,308.6 404.9,308.6 405.3,309.5 405.8,310.1 406.2,311.2 406.7,311.9 407.1,312.5 407.6,313.4 408.0,314.2 408.5,315.3 408.9,316.1 409.4,316.6 409.8,317.0 410.3,318.6 410.7,319.3 411.2,320.5 411.6,321.7 412.1,322.3 412.5,322.8 413.0,322.7 413.4,322.6 413.9,323.9 414.3,325.4 414.8,326.3 415.2,327.2 415.7,328.0 416.1,329.0 416.6,330.3 417.0,331.2 417.5,331.4 417.9,331.8 418.4,332.3 418.8,333.2 419.3,333.5 419.7,334.3 420.2,334.4 420.6,335.0 421.1,336.2 421.5,337.1 422.0,337.4 422.4,337.8 422.9,338.4 423.3,338.4 423.8,338.8 424.2,339.5 424.7,339.8 425.1,340.4 425.6,340.8 426.0,341.2 426.5,342.0 426.9,342.4 427.4,342.3 427.8,342.5 428.3,343.0 428.7,342.5 429.2,343.2 429.6,343.9 430.1,344.7 430.5,345.3 431.0,345.2 431.4,345.4 431.9,345.4 432.3,346.0 432.8,346.5 433.2,347.2 433.7,347.2 434.1,347.1 434.6,347.7 435.0,348.0 435.5,348.4 435.9,348.6 436.4,349.2 436.8,348.2 437.3,348.6 437.7,348.5 438.2,348.5 438.6,348.9 439.1,348.8 439.5,348.9 440.0,349.1 440.4,349.4 440.9,350.8 441.3,350.8 441.8,351.1 442.2,350.7 442.7,351.1 443.1,351.4 443.6,351.7 444.0,351.3 444.5,350.8 444.9,350.9 445.4,350.6 445.8,350.6 446.3,350.4 446.7,351.7 447.2,352.8 447.6,352.1 448.1,352.1 448.5,352.5 449.0,352.5 449.4,352.1 449.9,352.7 450.3,352.7 450.8,352.7 451.2,352.8 451.7,353.0 452.1,352.9 452.6,353.0 453.0,353.3 453.5,352.9 453.9,352.8 454.4,352.0 454.8,352.2 455.3,353.3 455.7,353.5 456.2,353.1 456.6,352.6 457.1,352.2 457.5,352.5 458.0,351.9 458.4,352.3 458.9,352.2 459.3,351.8 459.8,351.6 460.2,350.0 460.7,349.4 461.1,348.7 461.6,347.4 462.0,346.5 462.5,345.2 462.9,344.3 463.4,344.6 463.8,343.9 464.3,343.5 464.7,343.0 465.2,342.8 465.6,342.9 466.1,342.8 466.5,342.7 467.0,342.6 467.4,343.0 467.9,343.0 468.3,343.8 468.8,344.3 469.2,344.5 469.7,345.0 470.1,345.3 470.6,346.0 471.0,347.3 471.5,347.8 471.9,348.7 472.4,349.3 472.8,350.3 473.3,351.1 473.7,351.8 474.2,352.4 474.6,352.2 475.1,353.0 475.5,353.7 476.0,353.7 476.4,354.6 476.9,355.4 477.3,355.7 477.8,355.5 478.2,355.8 478.7,356.0 479.1,355.8 479.6,356.4 480.0,357.1 480.5,357.4 480.9,357.2 481.4,357.4 481.8,356.6 482.3,356.6 482.7,356.9 483.2,356.9 483.6,357.0 484.1,356.7 484.5,356.7 485.0,356.7 485.4,356.5 485.9,356.4 486.3,356.2 486.8,355.7 487.2,356.8 487.7,356.5 488.1,356.8 488.6,357.4 489.0,357.6 489.5,357.7 489.9,357.9 490.4,358.2 490.8,358.1 491.3,357.9 491.7,357.5 492.2,357.6 492.6,357.5 493.1,357.4 493.5,356.5 494.0,356.8 494.4,356.7 494.9,356.7 495.3,356.7 495.8,357.0 496.2,357.0 496.7,357.0 497.1,357.2 497.6,357.7 498.0,356.9 498.5,356.8 498.9,357.1 499.4,357.2 499.8,357.1 500.3,357.3 500.7,356.7 501.2,356.4 501.6,356.5 502.1,356.2 502.5,356.0 503.0,356.4 503.4,356.5 503.9,356.3 504.3,356.2 504.8,356.1 505.2,356.0 505.7,356.0 506.1,356.4 506.6,356.7 507.0,357.2 507.5,357.6 507.9,357.0 508.4,356.8 508.8,356.8 509.3,356.9 509.7,357.1 510.2,357.3 510.6,357.3 511.1,357.6 511.5,357.3 512.0,357.6 512.4,356.5 512.9,356.3 513.3,356.6 513.8,356.7 514.2,357.0 514.7,357.1 515.1,356.5 515.6,356.4 516.0,355.8 516.5,356.0 516.9,355.8 517.4,356.1 517.8,356.1 518.3,355.3 518.7,355.2 519.2,354.3 519.6,353.9 520.1,353.8 520.5,354.6 521.0,354.1 521.4,353.9 521.9,353.8 522.3,353.6 522.8,354.0 523.2,353.1 523.7,353.0 524.1,352.2 524.6,351.6 525.0,352.1 525.5,351.9 525.9,352.0 526.4,352.6 526.8,352.3 527.3,352.8 527.7,352.7 528.2,352.5 528.6,352.9 529.1,353.0 529.5,353.8 530.0,354.1 530.4,353.8 530.9,353.8 531.3,353.9 531.8,354.0 532.2,354.5 532.7,354.6 533.1,355.1 533.6,355.1 534.0,355.4 534.5,355.5 534.9,355.3 535.4,355.4 535.8,355.5 536.3,356.2 536.7,356.5 537.2,357.2 537.6,357.1 538.1,356.5 538.5,355.9 539.0,356.2 539.4,356.2 539.9,356.2 540.3,356.9 540.8,357.2 541.2,357.5 541.7,357.7 542.1,357.6 542.6,357.3 543.0,357.0 543.5,357.3 543.9,357.5 544.4,357.6 544.8,357.3 545.3,357.0 545.7,356.4 546.2,356.6 546.6,356.6 547.1,356.7 547.5,356.6 548.0,356.6 548.4,356.6 548.9,357.1 549.3,357.3 549.8,357.3 550.2,358.1 550.7,357.5 551.1,357.4 551.6,356.4 552.0,357.1 552.5,357.8 552.9,357.9 553.4,357.3 553.8,357.0 554.3,356.8 554.7,357.1 555.2,357.3 555.6,357.1 556.1,357.9 556.5,357.8 557.0,357.8 557.4,357.4 557.9,357.7 558.3,357.5 558.8,357.2 559.2,357.4 559.7,356.6 560.1,356.4 560.6,356.9 561.0,357.5 561.5,357.4 561.9,357.0 562.4,357.0 562.8,357.8 563.3,358.1 563.7,358.4 564.2,357.7 564.6,357.3 565.1,357.5 565.5,357.4 566.0,357.1 566.4,357.0 566.9,356.9 567.3,356.5 567.8,356.7 568.2,357.0 568.7,356.4 569.1,356.8 569.6,356.6 570.0,357.1 570.5,357.3 570.9,357.5 571.4,357.3 571.8,357.2 572.3,357.2 572.7,357.4 573.2,357.9 573.6,357.5 574.1,356.8 574.5,356.7 575.0,357.2 575.4,356.8 575.9,357.5 576.3,358.0 576.8,357.8 577.2,357.4 577.7,356.9 578.1,356.4 578.6,356.1 579.0,356.1 579.5,356.7 579.9,356.9 580.4,357.4 580.8,356.9 581.3,356.4 581.7,356.9 582.2,356.2 582.6,356.7 583.1,357.3 583.5,357.2 584.0,357.8 584.4,357.5 584.9,356.7 585.3,356.9 585.8,357.0 586.2,357.7 586.7,357.4 587.1,357.1 587.6,357.1 588.0,357.4 588.5,358.1 588.9,358.2 589.4,357.7 589.8,358.0 590.3,357.7 590.7,356.9 591.2,357.1 591.6,356.9 592.1,357.0 592.5,356.7 593.0,356.8 593.4,356.7 593.9,356.7 594.3,357.0 594.8,356.8 595.2,357.8 595.7,357.4 596.1,357.1 596.6,356.7 597.0,356.2 597.5,356.8 597.9,357.0 598.4,357.6 598.8,356.9 599.3,357.0 599.7,356.4 600.2,356.8 600.6,356.3 601.1,356.5 601.5,356.0 602.0,356.2 602.4,357.1 602.9,357.5 603.3,357.9 603.8,357.4 604.2,356.9 604.7,357.0 605.1,357.0 605.6,356.9 606.0,357.0 606.5,356.9 606.9,356.5 607.4,357.1 607.8,357.6 608.3,357.1 608.7,356.2 609.2,356.0 609.6,356.5 610.1,356.9 610.5,357.2 611.0,358.1 611.4,358.6 611.9,357.8 612.3,357.3 612.8,357.0 613.2,356.7 613.7,357.0 614.1,357.1 614.6,357.1 615.0,357.3 615.5,356.8 615.9,356.7 616.4,356.1 616.8,357.2 617.3,357.2 617.7,357.3 618.2,357.3 618.6,357.7 619.1,357.7 619.5,357.4 620.0,357.3 620.4,356.9 620.9,357.2 621.3,357.0 621.8,356.7 622.2,356.5 622.7,356.9 623.1,357.2 623.6,356.8 624.0,357.4 624.5,357.3 624.9,357.0 625.4,357.3 625.8,357.7 626.3,357.9 626.7,357.4 627.2,357.1 627.6,357.2 628.1,356.4 628.5,356.6 629.0,356.3 629.4,355.6 629.9,356.1 630.3,356.8 630.8,357.5 631.2,357.4 631.7,357.2 632.1,357.1 632.6,356.8 633.0,356.7 633.5,356.5 633.9,356.0 634.4,355.5 634.8,355.7 635.3,356.0 635.7,356.7 636.2,356.9 636.6,357.3 637.1,356.9 637.5,356.8 638.0,356.3 638.4,356.3 638.9,356.5 639.3,357.0 639.8,356.7 640.2,357.3 640.7,357.4 641.1,357.4 641.6,357.7 642.0,357.2 642.5,356.8 642.9,356.7 643.4,356.6 643.8,356.9 644.3,356.7 644.7,356.7 645.2,356.7 645.6,356.4 646.1,357.6 646.5,357.3 647.0,357.6 647.4,357.3 647.9,357.3 648.3,357.3 648.8,356.3 649.2,356.4 649.7,356.1"/>
<polyline fill="none" stroke="#008080" stroke-width="2.2" stroke-linejoin="round" points="79.5,331.7 80.0,331.7 80.4,331.7 80.9,331.2 81.3,331.5 81.8,331.5 82.2,331.2 82.7,332.1 83.1,332.8 83.6,333.1 84.0,332.7 84.5,331.7 84.9,331.2 85.4,330.8 85.8,330.7 86.3,330.6 86.7,330.6 87.2,331.0 87.6,331.2 88.1,331.0 88.5,331.1 89.0,331.1 89.4,331.0 89.9,331.3 90.3,331.5 90.8,331.7 91.2,331.3 91.7,331.1 92.1,331.1 92.6,331.5 93.0,331.5 93.5,331.6 93.9,331.3 94.4,331.0 94.8,330.7 95.3,330.5 95.7,330.5 96.2,330.4 96.6,330.9 97.1,330.9 97.5,331.0 98.0,331.1 98.4,331.5 98.9,331.5 99.3,331.7 99.8,331.3 100.2,331.1 100.7,331.0 101.1,331.5 101.6,330.6 102.0,331.2 102.5,331.5 102.9,331.1 103.4,331.6 103.8,331.7 104.3,331.8 104.7,332.5 105.2,332.4 105.6,331.5 106.1,331.2 106.5,330.7 107.0,330.8 107.4,331.0 107.9,331.9 108.3,331.3 108.8,331.4 109.2,330.9 109.7,330.7 110.1,330.5 110.6,330.7 111.0,330.8 111.5,330.8 111.9,330.9 112.4,331.1 112.8,331.3 113.3,330.9 113.7,331.1 114.2,331.1 114.6,331.2 115.1,331.0 115.5,331.4 116.0,331.0 116.4,331.4 116.9,331.8 117.3,331.4 117.8,331.3 118.2,330.7 118.7,330.4 119.1,330.7 119.6,330.8 120.0,331.6 120.5,332.3 120.9,331.6 121.4,330.9 121.8,330.2 122.3,330.2 122.7,330.3 123.2,330.8 123.6,331.0 124.1,331.1 124.5,330.8 125.0,330.9 125.4,330.3 125.9,330.9 126.3,330.6 126.8,330.9 127.2,330.7 127.7,330.5 128.1,330.4 128.6,330.4 129.0,331.2 129.5,331.0 129.9,331.1 130.4,331.6 130.8,330.8 131.3,330.6 131.7,330.3 132.2,330.6 132.6,330.5 133.1,330.5 133.5,330.3 134.0,330.3 134.4,330.4 134.9,329.6 135.3,330.0 135.8,330.0 136.2,330.1 136.7,329.6 137.1,329.9 137.6,329.4 138.0,329.9 138.5,330.2 138.9,330.3 139.4,330.8 139.8,330.7 140.3,330.9 140.7,331.0 141.2,331.0 141.6,330.9 142.1,330.8 142.5,331.0 143.0,330.1 143.4,329.2 143.9,329.7 144.3,330.2 144.8,330.7 145.2,330.1 145.7,329.5 146.1,329.8 146.6,329.6 147.0,329.7 147.5,330.0 147.9,330.5 148.4,331.1 148.8,330.2 149.3,329.7 149.7,328.6 150.2,329.7 150.6,330.3 151.1,330.5 151.5,329.9 152.0,329.4 152.4,329.8 152.9,329.4 153.3,329.0 153.8,329.1 154.2,329.3 154.7,329.5 155.1,329.6 155.6,329.5 156.0,330.0 156.5,329.0 156.9,329.3 157.4,329.3 157.8,330.2 158.3,330.1 158.7,330.2 159.2,330.0 159.6,329.4 160.1,328.8 160.5,328.1 161.0,328.9 161.4,329.1 161.9,328.8 162.3,328.9 162.8,329.0 163.2,329.1 163.7,328.6 164.1,328.4 164.6,328.3 165.0,328.0 165.5,328.4 165.9,328.8 166.4,329.0 166.8,328.9 167.3,329.0 167.7,328.7 168.2,328.3 168.6,328.1 169.1,328.1 169.5,328.2 170.0,328.6 170.4,328.3 170.9,329.1 171.3,328.5 171.8,328.6 172.2,328.0 172.7,328.1 173.1,327.9 173.6,327.8 174.0,328.8 174.5,329.1 174.9,329.3 175.4,329.2 175.8,329.3 176.3,328.7 176.7,327.9 177.2,326.8 177.6,327.1 178.1,327.2 178.5,327.6 179.0,327.6 179.4,327.4 179.9,324.9 180.3,321.7 180.8,320.9 181.2,321.2 181.7,321.6 182.1,324.9 182.6,327.1 183.0,327.2 183.5,327.2 183.9,327.7 184.4,328.1 184.8,327.0 185.3,326.2 185.7,326.1 186.2,325.8 186.6,325.7 187.1,326.2 187.5,326.3 188.0,326.7 188.4,327.1 188.9,327.7 189.3,327.7 189.8,327.4 190.2,327.1 190.7,326.9 191.1,326.6 191.6,326.3 192.0,326.7 192.5,326.3 192.9,327.0 193.4,327.2 193.8,327.3 194.3,326.7 194.7,327.1 195.2,326.6 195.6,326.3 196.1,326.4 196.5,326.3 197.0,326.4 197.4,326.7 197.9,326.7 198.3,326.6 198.8,326.8 199.2,326.6 199.7,326.1 200.1,326.4 200.6,326.0 201.0,326.6 201.5,326.3 201.9,325.7 202.4,325.7 202.8,325.7 203.3,325.3 203.7,324.9 204.2,325.0 204.6,325.1 205.1,324.5 205.5,325.1 206.0,325.1 206.4,324.8 206.9,324.5 207.3,324.4 207.8,324.5 208.2,324.3 208.7,324.1 209.1,324.7 209.6,324.2 210.0,324.4 210.5,324.1 210.9,324.1 211.4,323.9 211.8,324.0 212.3,323.2 212.7,322.7 213.2,321.9 213.6,322.6 214.1,322.3 214.5,322.7 215.0,322.1 215.4,321.6 215.9,321.2 216.3,321.1 216.8,320.5 217.2,320.3 217.7,320.5 218.1,320.0 218.6,320.9 219.0,320.8 219.5,320.7 219.9,320.4 220.4,320.1 220.8,319.4 221.3,318.7 221.7,318.3 222.2,318.2 222.6,317.9 223.1,317.8 223.5,317.6 224.0,317.4 224.4,316.7 224.9,316.7 225.3,316.6 225.8,316.5 226.2,316.9 226.7,316.2 227.1,314.8 227.6,313.9 228.0,313.3 228.5,312.3 228.9,312.2 229.4,312.0 229.8,312.0 230.3,311.3 230.7,310.9 231.2,310.2 231.6,309.8 232.1,309.1 232.5,308.7 233.0,308.1 233.4,307.3 233.9,306.8 234.3,306.2 234.8,305.5 235.2,304.3 235.7,301.9 236.1,301.0 236.6,299.9 237.0,298.8 237.5,296.8 237.9,295.5 238.4,293.9 238.8,292.5 239.3,290.8 239.7,289.5 240.2,287.4 240.6,285.6 241.1,282.6 241.5,280.0 242.0,276.3 242.4,272.8 242.9,269.2 243.3,264.7 243.8,259.7 244.2,254.0 244.7,247.5 245.1,241.1 245.6,233.2 246.0,224.8 246.5,216.1 246.9,205.9 247.4,197.2 247.8,188.7 248.3,181.3 248.7,176.9 249.2,175.0 249.6,176.0 250.1,179.1 250.5,184.7 251.0,192.1 251.4,200.1 251.9,208.9 252.3,217.6 252.8,226.1 253.2,233.1 253.7,240.2 254.1,245.8 254.6,251.1 255.0,256.2 255.5,259.8 255.9,262.3 256.4,265.4 256.8,267.7 257.3,270.1 257.7,272.4 258.2,273.6 258.6,275.2 259.1,276.7 259.5,278.9 260.0,279.9 260.4,280.4 260.9,281.1 261.3,281.6 261.8,282.2 262.2,282.5 262.7,283.3 263.1,283.8 263.6,284.3 264.0,284.6 264.5,284.7 264.9,284.7 265.4,284.4 265.8,283.9 266.3,284.0 266.7,284.3 267.2,285.0 267.6,285.1 268.1,284.3 268.5,284.4 269.0,284.4 269.4,283.9 269.9,283.5 270.3,283.9 270.8,283.6 271.2,283.5 271.7,284.0 272.1,283.9 272.6,282.9 273.0,283.3 273.5,282.1 273.9,281.8 274.4,281.0 274.8,280.0 275.3,278.3 275.7,277.5 276.2,277.0 276.6,276.0 277.1,275.2 277.5,274.8 278.0,273.3 278.4,271.8 278.9,269.5 279.3,267.7 279.8,265.9 280.2,263.9 280.7,261.4 281.1,258.5 281.6,255.6 282.0,253.6 282.5,251.0 282.9,247.6 283.4,243.8 283.8,239.7 284.3,235.7 284.7,225.5 285.2,179.7 285.6,139.8 286.1,126.7 286.5,121.5 287.0,110.2 287.4,90.2 287.9,92.4 288.3,114.3 288.8,124.9 289.2,132.3 289.7,152.6 290.1,201.1 290.6,233.9 291.0,238.4 291.5,241.9 291.9,245.8 292.4,248.8 292.8,250.8 293.3,252.6 293.7,253.5 294.2,254.5 294.6,254.9 295.1,255.4 295.5,255.4 296.0,254.6 296.4,253.3 296.9,249.9 297.3,247.4 297.8,244.0 298.2,239.9 298.7,234.7 299.1,229.3 299.6,223.1 300.0,216.2 300.5,209.5 300.9,202.9 301.4,197.1 301.8,191.9 302.3,186.1 302.7,181.7 303.2,178.3 303.6,177.8 304.1,178.6 304.5,180.8 305.0,183.6 305.4,188.1 305.9,193.9 306.3,200.9 306.8,208.2 307.2,216.1 307.7,223.6 308.1,231.1 308.6,237.6 309.0,243.8 309.5,249.8 309.9,255.1 310.4,259.5 310.8,263.3 311.3,267.1 311.7,270.0 312.2,272.9 312.6,276.5 313.1,277.6 313.5,278.5 314.0,279.6 314.4,280.6 314.9,282.2 315.3,282.4 315.8,283.0 316.2,283.7 316.7,284.0 317.1,284.9 317.6,284.7 318.0,285.4 318.5,286.1 318.9,286.3 319.4,286.2 319.8,285.8 320.3,286.4 320.7,286.1 321.2,286.5 321.6,286.6 322.1,286.4 322.5,286.0 323.0,285.3 323.4,284.6 323.9,284.2 324.3,284.2 324.8,283.8 325.2,284.0 325.7,283.3 326.1,283.6 326.6,282.9 327.0,282.0 327.5,281.1 327.9,280.3 328.4,279.8 328.8,277.9 329.3,276.1 329.7,274.2 330.2,273.5 330.6,271.7 331.1,269.9 331.5,267.2 332.0,264.9 332.4,262.4 332.9,259.4 333.3,256.8 333.8,254.7 334.2,252.7 334.7,252.3 335.1,251.8 335.6,253.5 336.0,254.8 336.5,256.4 336.9,259.0 337.4,262.4 337.8,265.0 338.3,267.8 338.7,270.5 339.2,272.6 339.6,275.1 340.1,277.0 340.5,279.1 341.0,280.6 341.4,281.6 341.9,282.7 342.3,284.8 342.8,286.0 343.2,285.9 343.7,286.4 344.1,286.2 344.6,287.9 345.0,288.3 345.5,289.7 345.9,290.2 346.4,290.7 346.8,291.0 347.3,291.0 347.7,291.4 348.2,292.3 348.6,292.8 349.1,293.1 349.5,293.0 350.0,292.7 350.4,293.1 350.9,293.7 351.3,294.3 351.8,294.3 352.2,293.9 352.7,294.0 353.1,294.9 353.6,294.6 354.0,295.2 354.5,295.3 354.9,295.3 355.4,295.8 355.8,295.8 356.3,296.2 356.7,296.5 357.2,296.1 357.6,297.0 358.1,297.7 358.5,297.6 359.0,297.1 359.4,297.3 359.9,296.7 360.3,296.6 360.8,296.5 361.2,297.0 361.7,297.4 362.1,298.0 362.6,298.2 363.0,297.9 363.5,297.8 363.9,298.2 364.4,298.0 364.8,298.4 365.3,298.9 365.7,298.9 366.2,297.9 366.6,297.0 367.1,297.6 367.5,297.4 368.0,298.1 368.4,298.6 368.9,298.4 369.3,297.8 369.8,297.4 370.2,297.6 370.7,297.3 371.1,297.1 371.6,297.2 372.0,296.1 372.5,294.9 372.9,295.2 373.4,295.2 373.8,295.5 374.3,295.7 374.7,296.3 375.2,296.2 375.6,295.4 376.1,294.1 376.5,293.7 377.0,293.3 377.4,293.2 377.9,292.7 378.3,292.7 378.8,292.8 379.2,292.9 379.7,291.6 380.1,291.3 380.6,291.3 381.0,291.1 381.5,289.8 381.9,288.7 382.4,287.3 382.8,287.5 383.3,287.7 383.7,287.7 384.2,287.0 384.6,286.8 385.1,286.2 385.5,285.5 386.0,284.6 386.4,284.3 386.9,284.5 387.3,284.7 387.8,284.4 388.2,284.5 388.7,284.6 389.1,284.2 389.6,283.9 390.0,283.3 390.5,282.8 390.9,282.2 391.4,281.1 391.8,280.2 392.3,280.3 392.7,280.7 393.2,281.3 393.6,280.7 394.1,280.9 394.5,280.6 395.0,280.7 395.4,280.2 395.9,279.9 396.3,280.1 396.8,279.9 397.2,280.5 397.7,281.5 398.1,281.4 398.6,280.9 399.0,280.0 399.5,279.7 399.9,279.5 400.4,279.3 400.8,280.1 401.3,280.4 401.7,280.8 402.2,280.8 402.6,280.9 403.1,281.1 403.5,281.8 404.0,282.3 404.4,282.4 404.9,283.1 405.3,283.9 405.8,284.1 406.2,284.9 406.7,285.2 407.1,286.1 407.6,286.3 408.0,286.4 408.5,286.4 408.9,287.3 409.4,288.4 409.8,289.0 410.3,289.7 410.7,290.7 411.2,291.1 411.6,291.8 412.1,292.3 412.5,292.7 413.0,293.7 413.4,294.9 413.9,295.5 414.3,296.0 414.8,296.6 415.2,296.8 415.7,296.8 416.1,297.3 416.6,298.5 417.0,299.5 417.5,300.5 417.9,300.9 418.4,302.2 418.8,302.6 419.3,302.9 419.7,303.3 420.2,303.5 420.6,303.8 421.1,303.8 421.5,304.9 422.0,305.3 422.4,305.4 422.9,305.8 423.3,305.9 423.8,305.7 424.2,306.1 424.7,306.9 425.1,307.4 425.6,308.7 426.0,308.8 426.5,309.1 426.9,309.5 427.4,310.1 427.8,310.2 428.3,310.3 428.7,310.9 429.2,310.6 429.6,311.0 430.1,311.2 430.5,311.9 431.0,311.8 431.4,311.9 431.9,312.2 432.3,312.6 432.8,312.8 433.2,313.1 433.7,313.7 434.1,313.8 434.6,314.1 435.0,313.5 435.5,313.9 435.9,314.1 436.4,314.9 436.8,313.9 437.3,313.9 437.7,314.0 438.2,314.0 438.6,314.5 439.1,314.5 439.5,315.5 440.0,315.8 440.4,316.3 440.9,316.4 441.3,316.3 441.8,316.4 442.2,316.0 442.7,315.7 443.1,315.7 443.6,315.5 444.0,315.5 444.5,315.8 444.9,315.2 445.4,315.8 445.8,316.0 446.3,316.5 446.7,316.5 447.2,316.3 447.6,315.1 448.1,314.0 448.5,313.1 449.0,312.0 449.4,311.8 449.9,311.2 450.3,310.7 450.8,311.2 451.2,311.2 451.7,311.1 452.1,311.1 452.6,311.3 453.0,311.6 453.5,313.2 453.9,314.7 454.4,315.6 454.8,316.1 455.3,315.6 455.7,315.6 456.2,316.4 456.6,316.8 457.1,316.7 457.5,316.3 458.0,315.6 458.4,314.6 458.9,314.2 459.3,314.2 459.8,314.2 460.2,314.2 460.7,314.0 461.1,313.6 461.6,313.1 462.0,312.3 462.5,311.2 462.9,311.0 463.4,311.3 463.8,311.8 464.3,310.7 464.7,310.3 465.2,309.5 465.6,310.5 466.1,311.0 466.5,311.6 467.0,312.0 467.4,312.4 467.9,312.7 468.3,312.3 468.8,312.5 469.2,313.5 469.7,315.0 470.1,316.2 470.6,316.8 471.0,316.9 471.5,317.9 471.9,318.6 472.4,318.3 472.8,318.8 473.3,318.9 473.7,319.5 474.2,320.2 474.6,321.0 475.1,321.3 475.5,321.3 476.0,321.2 476.4,321.4 476.9,321.7 477.3,322.0 477.8,322.4 478.2,322.5 478.7,322.7 479.1,322.2 479.6,322.7 480.0,323.7 480.5,324.1 480.9,323.9 481.4,323.9 481.8,323.0 482.3,322.5 482.7,323.3 483.2,323.7 483.6,323.8 484.1,324.1 484.5,324.2 485.0,324.2 485.4,323.9 485.9,324.3 486.3,324.8 486.8,325.2 487.2,324.9 487.7,325.0 488.1,325.2 488.6,324.5 489.0,324.3 489.5,324.7 489.9,324.8 490.4,324.7 490.8,324.5 491.3,325.1 491.7,325.0 492.2,325.6 492.6,325.7 493.1,325.8 493.5,325.9 494.0,325.7 494.4,325.7 494.9,325.6 495.3,325.1 495.8,325.0 496.2,324.2 496.7,325.2 497.1,326.0 497.6,326.3 498.0,325.0 498.5,323.5 498.9,322.7 499.4,322.7 499.8,322.7 500.3,322.6 500.7,323.3 501.2,324.3 501.6,325.5 502.1,325.9 502.5,325.7 503.0,325.6 503.4,325.3 503.9,325.3 504.3,325.6 504.8,325.5 505.2,325.5 505.7,326.0 506.1,325.5 506.6,326.0 507.0,325.2 507.5,325.3 507.9,324.7 508.4,324.8 508.8,324.7 509.3,325.1 509.7,325.2 510.2,325.2 510.6,325.5 511.1,325.4 511.5,324.6 512.0,324.5 512.4,324.3 512.9,324.2 513.3,324.3 513.8,322.8 514.2,322.4 514.7,322.2 515.1,322.7 515.6,322.9 516.0,323.5 516.5,322.6 516.9,322.5 517.4,322.0 517.8,321.1 518.3,320.9 518.7,320.8 519.2,320.3 519.6,320.5 520.1,320.8 520.5,320.3 521.0,320.0 521.4,319.8 521.9,319.8 522.3,319.5 522.8,319.7 523.2,319.3 523.7,318.8 524.1,316.1 524.6,305.4 525.0,300.3 525.5,299.6 525.9,300.5 526.4,308.4 526.8,317.4 527.3,319.2 527.7,319.5 528.2,320.2 528.6,321.2 529.1,321.3 529.5,321.6 530.0,322.0 530.4,322.7 530.9,323.8 531.3,323.1 531.8,323.7 532.2,323.7 532.7,324.2 533.1,324.3 533.6,324.2 534.0,325.5 534.5,325.6 534.9,326.3 535.4,326.4 535.8,326.8 536.3,327.1 536.7,327.5 537.2,327.7 537.6,327.7 538.1,328.2 538.5,328.2 539.0,328.3 539.4,328.4 539.9,328.7 540.3,328.7 540.8,329.0 541.2,329.2 541.7,329.4 542.1,329.3 542.6,329.8 543.0,329.4 543.5,329.7 543.9,329.6 544.4,329.8 544.8,329.2 545.3,330.2 545.7,330.0 546.2,330.4 546.6,331.3 547.1,331.5 547.5,330.6 548.0,329.9 548.4,330.0 548.9,330.4 549.3,329.8 549.8,330.1 550.2,330.1 550.7,330.7 551.1,330.3 551.6,330.7 552.0,330.4 552.5,330.5 552.9,330.8 553.4,330.4 553.8,329.7 554.3,330.0 554.7,329.8 555.2,329.5 555.6,330.2 556.1,330.7 556.5,330.7 557.0,330.3 557.4,329.9 557.9,330.2 558.3,330.4 558.8,331.1 559.2,330.8 559.7,331.1 560.1,331.2 560.6,331.2 561.0,331.8 561.5,332.2 561.9,332.2 562.4,331.8 562.8,332.0 563.3,331.6 563.7,331.3 564.2,331.0 564.6,330.9 565.1,331.0 565.5,330.7 566.0,330.4 566.4,330.5 566.9,330.6 567.3,331.0 567.8,331.5 568.2,331.1 568.7,331.0 569.1,330.4 569.6,330.0 570.0,330.7 570.5,331.3 570.9,331.1 571.4,331.2 571.8,331.7 572.3,331.6 572.7,331.8 573.2,331.7 573.6,331.6 574.1,331.5 574.5,331.3 575.0,331.3 575.4,331.6 575.9,331.7 576.3,331.1 576.8,331.4 577.2,331.4 577.7,331.1 578.1,331.2 578.6,330.9 579.0,330.8 579.5,331.1 579.9,331.1 580.4,331.5 580.8,332.4 581.3,332.5 581.7,332.6 582.2,332.3 582.6,332.3 583.1,331.7 583.5,332.2 584.0,331.8 584.4,331.9 584.9,331.7 585.3,331.2 585.8,332.1 586.2,332.6 586.7,332.3 587.1,331.9 587.6,331.3 588.0,331.7 588.5,332.4 588.9,332.5 589.4,332.1 589.8,331.8 590.3,332.4 590.7,331.9 591.2,331.6 591.6,331.7 592.1,332.3 592.5,332.6 593.0,332.2 593.4,332.5 593.9,332.2 594.3,332.3 594.8,332.0 595.2,332.1 595.7,332.2 596.1,332.4 596.6,332.2 597.0,332.1 597.5,332.2 597.9,332.1 598.4,332.3 598.8,332.2 599.3,332.2 599.7,332.4 600.2,332.5 600.6,331.9 601.1,332.1 601.5,332.1 602.0,332.4 602.4,332.2 602.9,331.8 603.3,331.8 603.8,331.9 604.2,331.7 604.7,331.8 605.1,332.0 605.6,331.9 606.0,331.9 606.5,332.3 606.9,331.9 607.4,332.3 607.8,332.0 608.3,332.6 608.7,332.8 609.2,332.8 609.6,332.6 610.1,331.7 610.5,331.6 611.0,332.0 611.4,332.3 611.9,332.5 612.3,331.5 612.8,331.3 613.2,331.2 613.7,331.7 614.1,331.9 614.6,332.0 615.0,332.1 615.5,332.0 615.9,331.9 616.4,331.2 616.8,331.3 617.3,331.3 617.7,332.2 618.2,332.5 618.6,332.7 619.1,332.8 619.5,332.5 620.0,332.6 620.4,332.7 620.9,332.6 621.3,332.3 621.8,332.2 622.2,332.3 622.7,332.8 623.1,332.9 623.6,333.9 624.0,333.7 624.5,332.8 624.9,332.6 625.4,332.1 625.8,332.4 626.3,332.4 626.7,333.0 627.2,333.6 627.6,334.0 628.1,333.1 628.5,332.8 629.0,332.9 629.4,332.6 629.9,333.2 630.3,332.9 630.8,333.1 631.2,333.2 631.7,333.1 632.1,333.0 632.6,333.3 633.0,332.9 633.5,333.0 633.9,333.0 634.4,333.1 634.8,332.7 635.3,332.3 635.7,332.2 636.2,333.0 636.6,333.5 637.1,333.8 637.5,333.1 638.0,333.2 638.4,332.4 638.9,332.3 639.3,332.1 639.8,332.2 640.2,332.2 640.7,332.6 641.1,333.1 641.6,333.3 642.0,333.3 642.5,332.8 642.9,332.7 643.4,333.1 643.8,333.0 644.3,333.1 644.7,333.2 645.2,333.3 645.6,333.3 646.1,332.9 646.5,333.0 647.0,332.8 647.4,332.3 647.9,332.3 648.3,332.5 648.8,333.2 649.2,333.4 649.7,333.6"/>
<polyline fill="none" stroke="#ff00ff" stroke-width="2.2" stroke-linejoin="round" points="79.5,308.5 80.0,308.8 80.4,308.1 80.9,307.7 81.3,307.7 81.8,308.1 82.2,308.3 82.7,308.2 83.1,308.1 83.6,308.1 84.0,307.8 84.5,307.3 84.9,307.1 85.4,307.6 85.8,307.6 86.3,307.5 86.7,307.3 87.2,307.6 87.6,306.7 88.1,307.1 88.5,306.9 89.0,306.6 89.4,306.9 89.9,306.6 90.3,306.6 90.8,306.3 91.2,307.0 91.7,307.3 92.1,307.5 92.6,307.3 93.0,307.0 93.5,307.3 93.9,307.6 94.4,307.6 94.8,307.1 95.3,306.3 95.7,306.8 96.2,307.0 96.6,306.9 97.1,306.8 97.5,307.0 98.0,306.7 98.4,306.7 98.9,306.0 99.3,305.9 99.8,306.0 100.2,305.7 100.7,306.3 101.1,306.9 101.6,306.9 102.0,307.2 102.5,306.8 102.9,306.9 103.4,306.6 103.8,306.2 104.3,306.2 104.7,306.2 105.2,306.5 105.6,306.7 106.1,307.3 106.5,307.3 107.0,307.1 107.4,307.8 107.9,307.2 108.3,306.5 108.8,306.1 109.2,306.5 109.7,306.5 110.1,306.9 110.6,307.3 111.0,307.4 111.5,307.3 111.9,306.8 112.4,306.3 112.8,306.5 113.3,307.0 113.7,306.9 114.2,305.9 114.6,304.7 115.1,305.5 115.5,306.2 116.0,307.1 116.4,306.8 116.9,306.1 117.3,305.8 117.8,305.3 118.2,304.8 118.7,305.7 119.1,306.1 119.6,306.0 120.0,306.5 120.5,306.3 120.9,306.7 121.4,306.5 121.8,306.5 122.3,306.5 122.7,306.5 123.2,306.4 123.6,306.0 124.1,305.8 124.5,305.6 125.0,305.1 125.4,305.2 125.9,305.1 126.3,305.1 126.8,305.4 127.2,305.1 127.7,305.3 128.1,305.3 128.6,305.6 129.0,305.5 129.5,305.4 129.9,305.3 130.4,304.7 130.8,305.2 131.3,305.0 131.7,305.3 132.2,305.4 132.6,305.8 133.1,305.7 133.5,305.7 134.0,305.3 134.4,305.6 134.9,306.0 135.3,306.4 135.8,306.6 136.2,306.3 136.7,305.5 137.1,304.9 137.6,304.2 138.0,304.3 138.5,304.2 138.9,303.9 139.4,304.1 139.8,304.2 140.3,304.0 140.7,303.5 141.2,304.0 141.6,304.0 142.1,305.1 142.5,304.7 143.0,304.1 143.4,304.1 143.9,303.7 144.3,303.9 144.8,303.8 145.2,303.7 145.7,304.2 146.1,304.0 146.6,304.7 147.0,304.7 147.5,304.3 147.9,303.8 148.4,304.3 148.8,304.2 149.3,303.6 149.7,304.3 150.2,304.3 150.6,304.4 151.1,304.4 151.5,304.2 152.0,304.5 152.4,304.2 152.9,303.8 153.3,304.5 153.8,304.4 154.2,304.1 154.7,303.9 155.1,303.3 155.6,303.1 156.0,303.4 156.5,303.6 156.9,303.5 157.4,303.3 157.8,303.4 158.3,303.4 158.7,304.2 159.2,303.9 159.6,304.1 160.1,303.9 160.5,303.5 161.0,303.5 161.4,302.8 161.9,302.9 162.3,303.5 162.8,304.1 163.2,303.1 163.7,303.0 164.1,302.8 164.6,303.1 165.0,303.9 165.5,303.9 165.9,303.4 166.4,303.1 166.8,303.1 167.3,302.8 167.7,302.1 168.2,302.2 168.6,302.1 169.1,302.1 169.5,302.1 170.0,302.7 170.4,302.5 170.9,302.6 171.3,302.7 171.8,302.2 172.2,302.1 172.7,302.3 173.1,302.4 173.6,302.6 174.0,302.3 174.5,301.6 174.9,301.7 175.4,301.6 175.8,302.0 176.3,301.6 176.7,301.8 177.2,301.6 177.6,301.4 178.1,300.8 178.5,300.4 179.0,298.7 179.4,294.0 179.9,291.6 180.3,290.8 180.8,290.6 181.2,293.4 181.7,298.1 182.1,299.6 182.6,300.2 183.0,300.4 183.5,301.2 183.9,300.8 184.4,301.0 184.8,301.5 185.3,301.3 185.7,301.8 186.2,301.5 186.6,300.9 187.1,301.0 187.5,301.5 188.0,301.6 188.4,302.2 188.9,301.9 189.3,301.6 189.8,301.5 190.2,301.7 190.7,301.8 191.1,301.3 191.6,301.4 192.0,300.9 192.5,301.1 192.9,300.8 193.4,300.9 193.8,300.2 194.3,300.2 194.7,300.4 195.2,300.9 195.6,300.4 196.1,300.9 196.5,300.7 197.0,300.3 197.4,300.0 197.9,300.2 198.3,300.2 198.8,299.6 199.2,299.4 199.7,299.3 200.1,298.8 200.6,299.3 201.0,299.6 201.5,299.8 201.9,299.6 202.4,299.4 202.8,298.9 203.3,298.2 203.7,298.1 204.2,298.4 204.6,299.0 205.1,298.8 205.5,298.8 206.0,299.1 206.4,298.8 206.9,298.3 207.3,298.2 207.8,298.5 208.2,298.6 208.7,298.3 209.1,298.4 209.6,298.1 210.0,297.7 210.5,296.7 210.9,296.8 211.4,296.8 211.8,296.7 212.3,297.2 212.7,297.2 213.2,296.8 213.6,297.4 214.1,296.7 214.5,296.7 215.0,296.8 215.4,297.0 215.9,296.2 216.3,295.2 216.8,294.7 217.2,294.8 217.7,295.2 218.1,295.6 218.6,295.1 219.0,294.5 219.5,294.9 219.9,294.7 220.4,294.8 220.8,294.7 221.3,294.4 221.7,294.0 222.2,293.4 222.6,292.6 223.1,291.8 223.5,292.4 224.0,292.1 224.4,291.7 224.9,291.4 225.3,290.9 225.8,291.3 226.2,291.6 226.7,291.0 227.1,290.1 227.6,289.3 228.0,289.4 228.5,290.0 228.9,289.7 229.4,289.1 229.8,288.2 230.3,288.0 230.7,287.2 231.2,287.2 231.6,285.9 232.1,284.6 232.5,284.0 233.0,284.3 233.4,283.8 233.9,283.0 234.3,282.9 234.8,282.2 235.2,280.9 235.7,280.1 236.1,279.6 236.6,278.8 237.0,277.9 237.5,276.9 237.9,276.1 238.4,275.3 238.8,273.8 239.3,272.8 239.7,272.3 240.2,270.4 240.6,269.1 241.1,267.1 241.5,265.6 242.0,263.2 242.4,261.1 242.9,258.9 243.3,256.2 243.8,253.3 244.2,250.8 244.7,247.4 245.1,243.9 245.6,240.8 246.0,237.6 246.5,234.1 246.9,230.1 247.4,227.0 247.8,223.7 248.3,221.0 248.7,218.8 249.2,218.4 249.6,217.3 250.1,216.8 250.5,217.3 251.0,219.7 251.4,223.0 251.9,225.4 252.3,227.7 252.8,230.2 253.2,233.4 253.7,236.3 254.1,239.0 254.6,241.1 255.0,243.4 255.5,245.5 255.9,247.8 256.4,249.7 256.8,251.1 257.3,253.1 257.7,253.6 258.2,254.6 258.6,255.3 259.1,256.2 259.5,256.4 260.0,257.8 260.4,258.4 260.9,259.0 261.3,258.7 261.8,259.5 262.2,260.0 262.7,260.0 263.1,260.2 263.6,259.7 264.0,260.6 264.5,261.0 264.9,260.9 265.4,261.1 265.8,261.3 266.3,261.3 266.7,261.5 267.2,261.2 267.6,261.6 268.1,261.2 268.5,260.8 269.0,261.1 269.4,260.9 269.9,261.2 270.3,261.6 270.8,262.4 271.2,262.5 271.7,261.8 272.1,261.6 272.6,261.8 273.0,262.6 273.5,261.7 273.9,261.1 274.4,260.5 274.8,260.3 275.3,259.6 275.7,259.9 276.2,260.0 276.6,260.0 277.1,259.5 277.5,258.4 278.0,257.8 278.4,257.6 278.9,257.7 279.3,256.9 279.8,256.1 280.2,254.7 280.7,253.8 281.1,252.5 281.6,251.1 282.0,249.3 282.5,247.0 282.9,244.1 283.4,240.1 283.8,236.3 284.3,231.0 284.7,225.4 285.2,219.2 285.6,213.5 286.1,208.8 286.5,207.8 287.0,209.9 287.4,214.3 287.9,220.3 288.3,226.4 288.8,231.5 289.2,235.7 289.7,238.5 290.1,240.9 290.6,243.1 291.0,244.7 291.5,245.4 291.9,246.1 292.4,246.2 292.8,245.8 293.3,246.1 293.7,245.8 294.2,245.7 294.6,245.2 295.1,244.0 295.5,242.2 296.0,240.3 296.4,238.0 296.9,236.3 297.3,233.8 297.8,231.0 298.2,228.5 298.7,225.0 299.1,222.3 299.6,219.1 300.0,215.6 300.5,212.9 300.9,209.8 301.4,206.7 301.8,203.9 302.3,203.2 302.7,203.1 303.2,204.3 303.6,206.5 304.1,209.7 304.5,212.8 305.0,216.0 305.4,219.4 305.9,223.0 306.3,227.2 306.8,230.8 307.2,234.5 307.7,237.6 308.1,240.8 308.6,243.2 309.0,245.0 309.5,247.1 309.9,248.9 310.4,250.2 310.8,252.0 311.3,253.6 311.7,254.4 312.2,255.3 312.6,256.7 313.1,257.6 313.5,259.1 314.0,259.6 314.4,260.5 314.9,261.2 315.3,262.2 315.8,262.9 316.2,263.6 316.7,264.2 317.1,264.5 317.6,265.2 318.0,264.7 318.5,265.0 318.9,264.9 319.4,265.0 319.8,265.8 320.3,265.4 320.7,266.6 321.2,266.3 321.6,266.1 322.1,266.0 322.5,264.9 323.0,265.3 323.4,266.0 323.9,265.6 324.3,265.2 324.8,265.0 325.2,264.3 325.7,263.8 326.1,263.5 326.6,262.5 327.0,262.0 327.5,261.7 327.9,261.3 328.4,260.1 328.8,258.9 329.3,257.3 329.7,256.1 330.2,255.3 330.6,254.3 331.1,253.0 331.5,252.0 332.0,251.2 332.4,250.5 332.9,249.9 333.3,248.6 333.8,247.6 334.2,246.8 334.7,246.6 335.1,246.6 335.6,246.8 336.0,246.9 336.5,246.3 336.9,246.5 337.4,246.8 337.8,247.9 338.3,248.6 338.7,250.0 339.2,250.6 339.6,251.9 340.1,253.1 340.5,254.5 341.0,255.2 341.4,257.1 341.9,258.5 342.3,260.2 342.8,261.9 343.2,263.0 343.7,264.0 344.1,264.6 344.6,266.2 345.0,267.1 345.5,268.1 345.9,269.5 346.4,271.0 346.8,271.0 347.3,271.2 347.7,272.2 348.2,272.6 348.6,273.6 349.1,273.9 349.5,274.3 350.0,274.8 350.4,274.9 350.9,274.7 351.3,275.2 351.8,275.9 352.2,276.4 352.7,276.3 353.1,275.9 353.6,275.6 354.0,276.4 354.5,276.8 354.9,277.3 355.4,276.9 355.8,276.5 356.3,276.8 356.7,277.2 357.2,277.6 357.6,277.9 358.1,278.1 358.5,278.1 359.0,278.4 359.4,278.1 359.9,277.7 360.3,277.6 360.8,277.3 361.2,277.3 361.7,277.4 362.1,278.0 362.6,277.5 363.0,277.4 363.5,276.9 363.9,276.9 364.4,277.0 364.8,276.6 365.3,276.6 365.7,276.7 366.2,276.7 366.6,277.0 367.1,276.8 367.5,276.8 368.0,276.5 368.4,276.5 368.9,275.3 369.3,275.0 369.8,275.4 370.2,275.2 370.7,275.2 371.1,275.0 371.6,275.0 372.0,274.5 372.5,274.4 372.9,273.8 373.4,273.1 373.8,272.6 374.3,272.5 374.7,272.5 375.2,272.8 375.6,271.8 376.1,270.8 376.5,270.0 377.0,270.3 377.4,269.9 377.9,269.9 378.3,269.6 378.8,269.1 379.2,267.7 379.7,266.4 380.1,266.2 380.6,265.7 381.0,265.7 381.5,265.5 381.9,264.8 382.4,264.5 382.8,263.5 383.3,263.0 383.7,263.3 384.2,261.9 384.6,261.2 385.1,260.9 385.5,260.7 386.0,260.0 386.4,259.7 386.9,259.0 387.3,258.9 387.8,258.8 388.2,258.7 388.7,258.5 389.1,258.0 389.6,258.5 390.0,257.5 390.5,257.2 390.9,257.2 391.4,256.5 391.8,256.5 392.3,256.2 392.7,256.3 393.2,256.1 393.6,255.9 394.1,256.2 394.5,255.8 395.0,255.5 395.4,255.6 395.9,255.6 396.3,255.1 396.8,255.4 397.2,255.4 397.7,255.7 398.1,255.0 398.6,254.9 399.0,254.2 399.5,254.2 399.9,254.1 400.4,254.0 400.8,254.8 401.3,255.7 401.7,256.2 402.2,256.6 402.6,257.2 403.1,257.0 403.5,256.7 404.0,256.5 404.4,257.1 404.9,257.0 405.3,257.8 405.8,258.4 406.2,259.0 406.7,259.9 407.1,260.4 407.6,260.8 408.0,261.3 408.5,261.9 408.9,262.1 409.4,262.8 409.8,263.7 410.3,264.0 410.7,264.4 411.2,264.5 411.6,265.3 412.1,265.7 412.5,266.3 413.0,267.0 413.4,267.1 413.9,268.2 414.3,268.7 414.8,269.0 415.2,269.9 415.7,271.1 416.1,271.6 416.6,272.3 417.0,273.0 417.5,273.3 417.9,274.0 418.4,274.6 418.8,274.8 419.3,275.1 419.7,275.6 420.2,276.7 420.6,277.0 421.1,277.5 421.5,277.8 422.0,277.7 422.4,278.7 422.9,279.4 423.3,280.0 423.8,279.9 424.2,279.9 424.7,280.3 425.1,280.9 425.6,281.9 426.0,282.8 426.5,283.8 426.9,283.6 427.4,284.3 427.8,284.0 428.3,285.0 428.7,285.4 429.2,285.9 429.6,286.0 430.1,285.8 430.5,286.1 431.0,287.3 431.4,288.5 431.9,288.6 432.3,288.7 432.8,288.6 433.2,289.2 433.7,289.0 434.1,289.2 434.6,289.7 435.0,289.9 435.5,290.3 435.9,290.9 436.4,291.0 436.8,291.6 437.3,292.1 437.7,291.8 438.2,292.1 438.6,292.2 439.1,292.2 439.5,291.3 440.0,291.2 440.4,292.0 440.9,292.3 441.3,292.6 441.8,293.4 442.2,293.6 442.7,293.4 443.1,293.9 443.6,293.9 444.0,293.9 444.5,293.9 444.9,293.8 445.4,294.1 445.8,294.4 446.3,294.3 446.7,294.5 447.2,294.8 447.6,295.0 448.1,295.5 448.5,295.0 449.0,294.2 449.4,294.4 449.9,294.5 450.3,294.3 450.8,294.5 451.2,295.3 451.7,295.8 452.1,295.6 452.6,295.7 453.0,295.4 453.5,295.5 453.9,295.6 454.4,296.1 454.8,296.4 455.3,296.7 455.7,296.4 456.2,296.7 456.6,295.7 457.1,295.8 457.5,295.7 458.0,296.1 458.4,295.5 458.9,295.5 459.3,295.3 459.8,295.4 460.2,294.8 460.7,294.8 461.1,294.8 461.6,295.2 462.0,293.9 462.5,293.8 462.9,293.1 463.4,292.9 463.8,292.6 464.3,292.8 464.7,293.3 465.2,293.7 465.6,293.0 466.1,292.6 466.5,292.2 467.0,292.6 467.4,292.8 467.9,292.8 468.3,292.9 468.8,292.8 469.2,293.1 469.7,293.5 470.1,293.1 470.6,294.1 471.0,294.5 471.5,294.9 471.9,295.0 472.4,295.7 472.8,295.8 473.3,295.7 473.7,295.8 474.2,296.8 474.6,297.7 475.1,297.9 475.5,297.6 476.0,297.2 476.4,297.7 476.9,298.2 477.3,298.7 477.8,299.3 478.2,300.2 478.7,299.7 479.1,299.3 479.6,299.2 480.0,299.4 480.5,299.9 480.9,299.7 481.4,299.9 481.8,299.3 482.3,299.5 482.7,299.8 483.2,300.0 483.6,299.8 484.1,300.3 484.5,299.8 485.0,300.2 485.4,300.5 485.9,299.9 486.3,299.8 486.8,299.4 487.2,299.8 487.7,299.6 488.1,299.6 488.6,300.4 489.0,300.6 489.5,300.0 489.9,300.1 490.4,299.6 490.8,300.3 491.3,300.3 491.7,300.1 492.2,300.5 492.6,300.8 493.1,300.9 493.5,300.6 494.0,300.6 494.4,300.4 494.9,300.1 495.3,300.2 495.8,300.6 496.2,300.6 496.7,300.5 497.1,300.9 497.6,301.1 498.0,301.1 498.5,300.7 498.9,301.2 499.4,301.0 499.8,301.4 500.3,300.8 500.7,301.3 501.2,301.6 501.6,301.3 502.1,302.6 502.5,302.4 503.0,301.7 503.4,301.0 503.9,301.2 504.3,300.8 504.8,300.6 505.2,300.9 505.7,301.3 506.1,301.9 506.6,301.5 507.0,301.8 507.5,301.4 507.9,301.5 508.4,301.4 508.8,301.6 509.3,300.5 509.7,300.7 510.2,301.6 510.6,302.1 511.1,302.3 511.5,301.9 512.0,301.3 512.4,301.2 512.9,300.5 513.3,300.4 513.8,299.9 514.2,299.4 514.7,299.1 515.1,299.4 515.6,299.4 516.0,299.3 516.5,298.7 516.9,298.1 517.4,298.0 517.8,297.9 518.3,297.0 518.7,296.2 519.2,295.0 519.6,294.8 520.1,294.1 520.5,293.5 521.0,293.3 521.4,293.0 521.9,292.6 522.3,291.5 522.8,289.3 523.2,268.7 523.7,253.7 524.1,253.4 524.6,260.6 525.0,286.5 525.5,292.6 525.9,293.5 526.4,294.7 526.8,295.3 527.3,296.3 527.7,296.9 528.2,297.8 528.6,298.4 529.1,298.6 529.5,299.5 530.0,299.9 530.4,299.9 530.9,300.5 531.3,301.0 531.8,301.3 532.2,302.0 532.7,302.1 533.1,302.4 533.6,302.4 534.0,302.7 534.5,303.1 534.9,303.4 535.4,303.3 535.8,303.2 536.3,302.9 536.7,302.6 537.2,302.3 537.6,303.0 538.1,303.6 538.5,304.0 539.0,304.4 539.4,304.8 539.9,305.0 540.3,304.8 540.8,304.2 541.2,304.6 541.7,304.5 542.1,304.6 542.6,304.6 543.0,304.5 543.5,304.3 543.9,303.9 544.4,304.2 544.8,304.3 545.3,303.7 545.7,304.1 546.2,304.5 546.6,305.1 547.1,305.0 547.5,305.2 548.0,305.3 548.4,304.8 548.9,305.2 549.3,305.1 549.8,304.7 550.2,305.3 550.7,305.2 551.1,305.2 551.6,305.3 552.0,305.0 552.5,304.8 552.9,305.0 553.4,305.1 553.8,305.7 554.3,305.6 554.7,305.1 555.2,305.1 555.6,305.3 556.1,305.5 556.5,305.2 557.0,304.8 557.4,305.2 557.9,305.0 558.3,304.6 558.8,304.6 559.2,305.1 559.7,305.6 560.1,305.7 560.6,305.4 561.0,304.9 561.5,304.9 561.9,304.6 562.4,304.1 562.8,304.6 563.3,305.4 563.7,305.3 564.2,304.6 564.6,304.4 565.1,304.7 565.5,306.1 566.0,306.8 566.4,306.2 566.9,306.2 567.3,306.3 567.8,305.6 568.2,306.0 568.7,306.2 569.1,305.3 569.6,305.3 570.0,304.9 570.5,305.1 570.9,304.7 571.4,305.1 571.8,305.5 572.3,305.8 572.7,305.9 573.2,305.9 573.6,305.9 574.1,305.7 574.5,305.7 575.0,305.5 575.4,305.9 575.9,306.8 576.3,306.7 576.8,306.5 577.2,306.5 577.7,306.5 578.1,306.1 578.6,306.2 579.0,305.4 579.5,305.2 579.9,305.5 580.4,304.4 580.8,305.4 581.3,305.5 581.7,305.9 582.2,305.9 582.6,305.7 583.1,306.0 583.5,306.1 584.0,306.4 584.4,306.5 584.9,306.9 585.3,306.9 585.8,307.3 586.2,306.9 586.7,307.1 587.1,306.6 587.6,306.4 588.0,306.9 588.5,306.9 588.9,306.6 589.4,307.2 589.8,306.7 590.3,307.1 590.7,306.6 591.2,306.1 591.6,306.5 592.1,306.5 592.5,307.1 593.0,306.7 593.4,307.3 593.9,307.1 594.3,306.5 594.8,306.3 595.2,306.6 595.7,306.3 596.1,306.2 596.6,306.1 597.0,305.9 597.5,306.2 597.9,306.2 598.4,306.3 598.8,306.4 599.3,306.7 599.7,306.7 600.2,306.7 600.6,307.1 601.1,307.0 601.5,307.0 602.0,306.6 602.4,306.8 602.9,307.2 603.3,307.8 603.8,308.0 604.2,307.3 604.7,306.6 605.1,306.7 605.6,306.1 606.0,306.6 606.5,307.4 606.9,307.3 607.4,306.7 607.8,306.2 608.3,306.9 608.7,307.0 609.2,307.7 609.6,307.2 610.1,307.2 610.5,306.8 611.0,306.9 611.4,306.8 611.9,307.1 612.3,307.4 612.8,307.2 613.2,306.8 613.7,307.2 614.1,306.8 614.6,307.0 615.0,307.2 615.5,307.5 615.9,307.4 616.4,307.3 616.8,307.3 617.3,306.8 617.7,306.9 618.2,307.1 618.6,307.3 619.1,307.0 619.5,306.8 620.0,306.5 620.4,306.8 620.9,306.9 621.3,307.4 621.8,307.0 622.2,306.3 622.7,306.8 623.1,307.2 623.6,307.5 624.0,307.1 624.5,307.2 624.9,307.3 625.4,307.8 625.8,307.4 626.3,307.3 626.7,306.9 627.2,306.8 627.6,307.8 628.1,308.1 628.5,308.0 629.0,308.1 629.4,307.2 629.9,307.0 630.3,307.4 630.8,307.5 631.2,306.7 631.7,306.9 632.1,307.3 632.6,307.4 633.0,307.9 633.5,308.0 633.9,307.3 634.4,306.8 634.8,307.2 635.3,307.4 635.7,307.8 636.2,306.9 636.6,307.1 637.1,306.6 637.5,307.2 638.0,307.2 638.4,307.3 638.9,307.4 639.3,307.5 639.8,307.8 640.2,307.8 640.7,307.7 641.1,307.4 641.6,307.3 642.0,307.0 642.5,307.1 642.9,307.0 643.4,307.5 643.8,307.6 644.3,307.5 644.7,306.8 645.2,306.6 645.6,306.5 646.1,306.7 646.5,306.9 647.0,307.5 647.4,307.5 647.9,308.0 648.3,306.8 648.8,306.6 649.2,307.1 649.7,307.0"/>
<polyline fill="none" stroke="#808000" stroke-width="2.2" stroke-linejoin="round" points="79.5,280.0 80.0,279.6 80.4,280.6 80.9,280.6 81.3,281.3 81.8,280.9 82.2,280.2 82.7,280.3 83.1,280.2 83.6,280.4 84.0,280.7 84.5,281.0 84.9,280.7 85.4,280.4 85.8,279.8 86.3,279.7 86.7,280.7 87.2,281.1 87.6,280.5 88.1,280.8 88.5,280.4 89.0,280.3 89.4,280.6 89.9,280.0 90.3,280.5 90.8,281.3 91.2,281.7 91.7,282.2 92.1,282.7 92.6,281.8 93.0,280.7 93.5,280.7 93.9,281.0 94.4,281.3 94.8,280.3 95.3,280.7 95.7,280.4 96.2,279.9 96.6,280.1 97.1,279.9 97.5,280.4 98.0,281.0 98.4,281.1 98.9,281.4 99.3,281.4 99.8,281.0 100.2,280.8 100.7,280.4 101.1,280.8 101.6,281.1 102.0,280.5 102.5,280.3 102.9,280.8 103.4,281.5 103.8,281.6 104.3,281.0 104.7,280.3 105.2,279.5 105.6,279.8 106.1,280.5 106.5,280.8 107.0,280.7 107.4,281.2 107.9,280.9 108.3,280.7 108.8,280.6 109.2,280.7 109.7,280.0 110.1,279.4 110.6,279.6 111.0,279.6 111.5,279.6 111.9,280.0 112.4,280.1 112.8,280.1 113.3,280.1 113.7,280.3 114.2,279.5 114.6,279.7 115.1,279.5 115.5,279.5 116.0,279.0 116.4,280.2 116.9,279.9 117.3,280.3 117.8,280.7 118.2,280.6 118.7,280.3 119.1,279.6 119.6,279.6 120.0,279.7 120.5,279.8 120.9,279.5 121.4,279.6 121.8,279.7 122.3,280.0 122.7,280.7 123.2,281.8 123.6,280.8 124.1,280.8 124.5,280.2 125.0,280.4 125.4,279.8 125.9,280.2 126.3,280.4 126.8,280.5 127.2,280.9 127.7,280.9 128.1,281.1 128.6,280.8 129.0,280.8 129.5,280.1 129.9,279.2 130.4,278.9 130.8,279.3 131.3,279.4 131.7,280.0 132.2,279.7 132.6,279.7 133.1,279.4 133.5,279.4 134.0,279.7 134.4,279.0 134.9,279.2 135.3,279.1 135.8,279.1 136.2,279.4 136.7,279.1 137.1,279.2 137.6,278.8 138.0,279.1 138.5,279.9 138.9,279.6 139.4,279.3 139.8,279.8 140.3,279.2 140.7,278.3 141.2,278.7 141.6,278.8 142.1,278.6 142.5,279.0 143.0,278.9 143.4,279.3 143.9,279.2 144.3,279.7 144.8,280.2 145.2,279.9 145.7,279.8 146.1,279.3 146.6,279.5 147.0,279.1 147.5,279.0 147.9,277.9 148.4,277.5 148.8,277.9 149.3,279.1 149.7,278.8 150.2,279.0 150.6,279.4 151.1,279.0 151.5,278.8 152.0,279.2 152.4,279.1 152.9,278.8 153.3,278.2 153.8,278.8 154.2,278.5 154.7,279.3 155.1,278.9 155.6,278.8 156.0,279.8 156.5,280.5 156.9,280.3 157.4,280.5 157.8,279.6 158.3,279.0 158.7,279.5 159.2,279.3 159.6,279.3 160.1,279.1 160.5,278.8 161.0,279.2 161.4,279.3 161.9,279.2 162.3,279.4 162.8,278.9 163.2,279.1 163.7,279.0 164.1,278.4 164.6,278.5 165.0,278.7 165.5,279.1 165.9,279.4 166.4,279.4 166.8,279.4 167.3,279.3 167.7,279.3 168.2,279.2 168.6,279.1 169.1,279.1 169.5,279.3 170.0,279.3 170.4,279.3 170.9,278.8 171.3,278.9 171.8,278.3 172.2,278.0 172.7,277.6 173.1,277.5 173.6,277.4 174.0,277.5 174.5,277.6 174.9,277.6 175.4,278.0 175.8,278.1 176.3,278.2 176.7,278.4 177.2,278.1 177.6,277.8 178.1,278.1 178.5,277.1 179.0,276.0 179.4,275.3 179.9,274.4 180.3,273.7 180.8,273.6 181.2,274.0 181.7,274.0 182.1,274.7 182.6,274.7 183.0,275.4 183.5,275.0 183.9,275.8 184.4,276.0 184.8,277.2 185.3,277.3 185.7,278.1 186.2,278.1 186.6,278.3 187.1,278.4 187.5,278.3 188.0,278.1 188.4,278.3 188.9,278.1 189.3,277.1 189.8,277.1 190.2,276.4 190.7,277.2 191.1,278.2 191.6,278.5 192.0,278.4 192.5,278.5 192.9,278.3 193.4,278.5 193.8,278.1 194.3,278.1 194.7,278.2 195.2,277.6 195.6,277.5 196.1,277.1 196.5,277.3 197.0,277.8 197.4,278.1 197.9,277.8 198.3,277.7 198.8,277.7 199.2,277.8 199.7,278.4 200.1,278.5 200.6,277.2 201.0,276.7 201.5,277.8 201.9,277.7 202.4,278.6 202.8,277.9 203.3,278.0 203.7,277.9 204.2,278.0 204.6,278.3 205.1,277.8 205.5,277.4 206.0,277.2 206.4,277.3 206.9,277.2 207.3,277.3 207.8,277.6 208.2,277.7 208.7,277.6 209.1,277.1 209.6,277.1 210.0,276.5 210.5,276.2 210.9,275.9 211.4,276.3 211.8,276.1 212.3,276.8 212.7,276.6 213.2,276.7 213.6,276.2 214.1,275.8 214.5,275.4 215.0,275.2 215.4,275.0 215.9,274.9 216.3,275.6 216.8,275.7 217.2,275.3 217.7,275.5 218.1,274.5 218.6,275.2 219.0,275.7 219.5,275.3 219.9,274.8 220.4,273.8 220.8,273.6 221.3,273.7 221.7,273.4 222.2,273.9 222.6,273.7 223.1,274.0 223.5,274.5 224.0,274.6 224.4,274.0 224.9,273.2 225.3,272.9 225.8,272.9 226.2,273.1 226.7,272.6 227.1,272.5 227.6,272.7 228.0,272.1 228.5,271.4 228.9,271.4 229.4,271.4 229.8,272.2 230.3,271.1 230.7,271.3 231.2,270.2 231.6,270.2 232.1,269.8 232.5,269.2 233.0,268.6 233.4,267.7 233.9,266.9 234.3,266.2 234.8,266.3 235.2,265.4 235.7,264.3 236.1,263.7 236.6,263.8 237.0,263.6 237.5,263.2 237.9,261.9 238.4,261.3 238.8,260.4 239.3,260.1 239.7,259.3 240.2,258.0 240.6,257.1 241.1,255.8 241.5,253.8 242.0,251.9 242.4,250.9 242.9,249.3 243.3,247.7 243.8,246.6 244.2,245.0 244.7,243.2 245.1,242.3 245.6,240.8 246.0,239.1 246.5,236.7 246.9,235.1 247.4,234.3 247.8,233.5 248.3,232.1 248.7,231.5 249.2,230.6 249.6,230.6 250.1,230.6 250.5,230.1 251.0,230.6 251.4,231.4 251.9,231.8 252.3,232.2 252.8,233.0 253.2,234.1 253.7,234.6 254.1,235.8 254.6,237.3 255.0,239.5 255.5,240.7 255.9,241.1 256.4,242.0 256.8,243.4 257.3,244.6 257.7,245.5 258.2,246.3 258.6,247.2 259.1,248.1 259.5,248.7 260.0,250.0 260.4,250.0 260.9,250.1 261.3,250.7 261.8,251.2 262.2,252.1 262.7,252.6 263.1,252.3 263.6,253.0 264.0,253.7 264.5,253.7 264.9,253.6 265.4,253.7 265.8,253.8 266.3,253.6 266.7,253.5 267.2,253.6 267.6,253.4 268.1,253.3 268.5,252.8 269.0,253.5 269.4,253.3 269.9,253.1 270.3,252.6 270.8,252.9 271.2,253.2 271.7,254.3 272.1,254.2 272.6,253.0 273.0,252.3 273.5,252.7 273.9,252.6 274.4,252.4 274.8,252.5 275.3,252.6 275.7,252.0 276.2,251.4 276.6,250.5 277.1,250.3 277.5,250.3 278.0,249.9 278.4,250.0 278.9,249.6 279.3,249.2 279.8,248.6 280.2,247.9 280.7,246.9 281.1,245.9 281.6,244.5 282.0,243.5 282.5,241.6 282.9,240.0 283.4,238.3 283.8,235.7 284.3,232.6 284.7,228.5 285.2,224.8 285.6,219.8 286.1,215.2 286.5,210.3 287.0,206.2 287.4,202.2 287.9,199.2 288.3,197.6 288.8,198.2 289.2,200.7 289.7,205.0 290.1,209.7 290.6,213.4 291.0,218.2 291.5,222.6 291.9,226.6 292.4,229.8 292.8,233.3 293.3,236.4 293.7,238.8 294.2,240.8 294.6,242.0 295.1,242.6 295.5,243.5 296.0,244.0 296.4,243.9 296.9,243.9 297.3,243.5 297.8,243.0 298.2,242.6 298.7,241.3 299.1,239.9 299.6,238.6 300.0,237.5 300.5,236.5 300.9,234.4 301.4,232.7 301.8,230.6 302.3,228.1 302.7,226.8 303.2,224.9 303.6,223.4 304.1,222.4 304.5,222.5 305.0,221.8 305.4,222.6 305.9,224.5 306.3,226.4 306.8,228.2 307.2,229.7 307.7,231.0 308.1,233.2 308.6,236.4 309.0,239.1 309.5,241.4 309.9,243.6 310.4,244.6 310.8,246.6 311.3,248.3 311.7,249.3 312.2,250.5 312.6,251.4 313.1,252.7 313.5,253.4 314.0,254.4 314.4,254.9 314.9,255.0 315.3,255.2 315.8,255.7 316.2,255.9 316.7,256.1 317.1,257.2 317.6,257.4 318.0,257.4 318.5,256.7 318.9,257.4 319.4,258.3 319.8,258.7 320.3,258.5 320.7,259.0 321.2,258.9 321.6,258.0 322.1,256.9 322.5,256.7 323.0,256.9 323.4,257.4 323.9,257.5 324.3,258.0 324.8,258.5 325.2,258.0 325.7,258.0 326.1,257.5 326.6,257.4 327.0,257.1 327.5,257.2 327.9,256.5 328.4,256.7 328.8,255.8 329.3,255.8 329.7,255.6 330.2,255.2 330.6,254.4 331.1,254.0 331.5,254.2 332.0,253.4 332.4,252.9 332.9,251.8 333.3,251.3 333.8,251.5 334.2,251.1 334.7,250.2 335.1,248.8 335.6,248.4 336.0,248.5 336.5,248.6 336.9,248.9 337.4,248.0 337.8,248.2 338.3,248.7 338.7,249.4 339.2,250.7 339.6,250.6 340.1,251.6 340.5,252.0 341.0,251.6 341.4,251.9 341.9,252.2 342.3,252.8 342.8,253.1 343.2,254.0 343.7,254.8 344.1,255.1 344.6,256.3 345.0,256.8 345.5,257.8 345.9,258.5 346.4,259.3 346.8,259.7 347.3,260.5 347.7,260.7 348.2,261.4 348.6,261.5 349.1,261.7 349.5,260.9 350.0,260.8 350.4,261.9 350.9,263.2 351.3,264.0 351.8,263.7 352.2,263.7 352.7,263.5 353.1,264.2 353.6,264.0 354.0,265.0 354.5,265.8 354.9,265.1 355.4,265.2 355.8,265.1 356.3,265.2 356.7,264.7 357.2,264.8 357.6,264.7 358.1,265.1 358.5,264.9 359.0,265.7 359.4,265.3 359.9,265.8 360.3,266.9 360.8,266.8 361.2,266.7 361.7,267.6 362.1,267.3 362.6,267.0 363.0,266.3 363.5,266.4 363.9,266.4 364.4,265.9 364.8,266.9 365.3,267.2 365.7,267.6 366.2,267.1 366.6,266.2 367.1,266.5 367.5,267.1 368.0,267.5 368.4,267.0 368.9,266.7 369.3,266.7 369.8,266.6 370.2,266.7 370.7,266.4 371.1,265.9 371.6,265.6 372.0,266.2 372.5,266.0 372.9,265.8 373.4,265.6 373.8,265.0 374.3,265.0 374.7,264.4 375.2,264.6 375.6,264.5 376.1,265.0 376.5,264.6 377.0,264.1 377.4,263.8 377.9,263.9 378.3,263.5 378.8,263.6 379.2,263.3 379.7,263.5 380.1,262.7 380.6,261.9 381.0,262.1 381.5,262.1 381.9,261.1 382.4,261.7 382.8,260.6 383.3,260.4 383.7,259.9 384.2,260.0 384.6,259.9 385.1,259.3 385.5,258.3 386.0,258.2 386.4,257.1 386.9,256.9 387.3,256.4 387.8,255.8 388.2,255.6 388.7,255.3 389.1,254.9 389.6,254.7 390.0,254.1 390.5,253.2 390.9,252.5 391.4,252.2 391.8,251.9 392.3,251.7 392.7,251.3 393.2,250.5 393.6,250.3 394.1,249.8 394.5,249.6 395.0,249.1 395.4,248.7 395.9,248.2 396.3,247.9 396.8,247.9 397.2,246.4 397.7,245.9 398.1,245.2 398.6,245.4 399.0,245.5 399.5,244.5 399.9,243.4 400.4,243.7 400.8,244.3 401.3,244.5 401.7,245.1 402.2,245.2 402.6,244.7 403.1,245.4 403.5,245.4 404.0,245.4 404.4,245.0 404.9,244.9 405.3,245.1 405.8,245.7 406.2,245.8 406.7,246.5 407.1,246.2 407.6,245.7 408.0,246.9 408.5,246.9 408.9,247.0 409.4,247.2 409.8,246.9 410.3,247.9 410.7,247.9 411.2,248.9 411.6,249.9 412.1,250.5 412.5,250.8 413.0,251.6 413.4,252.9 413.9,253.5 414.3,254.3 414.8,255.0 415.2,254.8 415.7,255.3 416.1,255.1 416.6,256.7 417.0,256.8 417.5,257.6 417.9,258.2 418.4,259.0 418.8,259.4 419.3,259.7 419.7,260.1 420.2,260.4 420.6,260.7 421.1,261.0 421.5,261.7 422.0,262.4 422.4,263.3 422.9,263.6 423.3,264.2 423.8,265.0 424.2,265.7 424.7,266.1 425.1,266.5 425.6,266.9 426.0,268.1 426.5,268.5 426.9,268.4 427.4,269.1 427.8,269.6 428.3,270.4 428.7,270.5 429.2,271.1 429.6,271.4 430.1,270.8 430.5,271.3 431.0,272.2 431.4,272.8 431.9,273.4 432.3,272.8 432.8,272.5 433.2,272.9 433.7,274.0 434.1,274.4 434.6,274.5 435.0,274.8 435.5,274.6 435.9,274.9 436.4,275.0 436.8,275.1 437.3,275.0 437.7,275.3 438.2,275.7 438.6,276.4 439.1,276.8 439.5,276.5 440.0,276.1 440.4,276.9 440.9,277.4 441.3,277.7 441.8,277.7 442.2,277.6 442.7,277.8 443.1,278.0 443.6,277.6 444.0,277.5 444.5,277.8 444.9,277.7 445.4,278.3 445.8,278.5 446.3,278.8 446.7,278.5 447.2,278.6 447.6,278.7 448.1,277.9 448.5,277.8 449.0,278.3 449.4,278.5 449.9,278.7 450.3,278.7 450.8,279.1 451.2,278.9 451.7,278.4 452.1,278.8 452.6,278.9 453.0,279.1 453.5,278.7 453.9,278.5 454.4,278.9 454.8,278.5 455.3,278.6 455.7,278.5 456.2,278.4 456.6,277.9 457.1,277.4 457.5,277.7 458.0,277.2 458.4,277.6 458.9,278.5 459.3,278.2 459.8,277.2 460.2,276.7 460.7,276.6 461.1,276.5 461.6,276.1 462.0,276.1 462.5,275.5 462.9,275.1 463.4,275.2 463.8,275.5 464.3,275.4 464.7,274.8 465.2,274.8 465.6,275.7 466.1,276.9 466.5,277.0 467.0,275.9 467.4,275.4 467.9,275.9 468.3,275.6 468.8,276.2 469.2,276.7 469.7,277.8 470.1,278.1 470.6,278.3 471.0,278.4 471.5,278.3 471.9,278.1 472.4,277.7 472.8,278.0 473.3,279.3 473.7,279.4 474.2,279.6 474.6,280.1 475.1,279.7 475.5,279.3 476.0,279.1 476.4,279.7 476.9,280.1 477.3,280.0 477.8,280.3 478.2,279.8 478.7,280.1 479.1,279.8 479.6,279.8 480.0,279.9 480.5,280.3 480.9,280.0 481.4,279.9 481.8,280.2 482.3,279.3 482.7,279.6 483.2,279.7 483.6,280.4 484.1,281.6 484.5,281.6 485.0,280.9 485.4,280.2 485.9,280.3 486.3,279.9 486.8,279.9 487.2,280.6 487.7,280.9 488.1,281.3 488.6,280.6 489.0,280.0 489.5,280.8 489.9,281.2 490.4,281.2 490.8,281.2 491.3,280.9 491.7,280.2 492.2,280.4 492.6,280.4 493.1,280.7 493.5,280.7 494.0,280.7 494.4,280.3 494.9,280.4 495.3,280.2 495.8,280.1 496.2,280.1 496.7,280.0 497.1,280.3 497.6,280.5 498.0,281.0 498.5,281.2 498.9,281.1 499.4,280.7 499.8,280.3 500.3,280.0 500.7,280.1 501.2,280.0 501.6,280.0 502.1,280.2 502.5,280.1 503.0,280.7 503.4,280.4 503.9,280.8 504.3,280.4 504.8,281.0 505.2,280.9 505.7,280.7 506.1,280.6 506.6,279.9 507.0,279.6 507.5,279.9 507.9,280.7 508.4,280.2 508.8,280.6 509.3,280.1 509.7,280.2 510.2,280.3 510.6,280.2 511.1,280.2 511.5,280.2 512.0,280.3 512.4,279.8 512.9,279.5 513.3,278.9 513.8,279.6 514.2,279.9 514.7,280.0 515.1,280.0 515.6,280.3 516.0,280.1 516.5,279.6 516.9,278.9 517.4,279.4 517.8,279.4 518.3,280.0 518.7,280.4 519.2,280.4 519.6,279.8 520.1,278.9 520.5,278.0 521.0,277.8 521.4,277.8 521.9,277.1 522.3,276.1 522.8,274.5 523.2,273.1 523.7,271.5 524.1,270.0 524.6,268.0 525.0,266.0 525.5,265.0 525.9,263.7 526.4,262.9 526.8,262.6 527.3,263.5 527.7,264.1 528.2,265.1 528.6,266.9 529.1,268.3 529.5,269.9 530.0,271.4 530.4,273.0 530.9,275.2 531.3,275.9 531.8,276.9 532.2,277.0 532.7,277.8 533.1,278.1 533.6,278.4 534.0,279.1 534.5,279.0 534.9,279.6 535.4,279.2 535.8,279.2 536.3,279.2 536.7,278.9 537.2,278.9 537.6,279.4 538.1,280.5 538.5,280.3 539.0,279.9 539.4,278.8 539.9,279.7 540.3,279.7 540.8,280.6 541.2,279.8 541.7,279.6 542.1,279.4 542.6,279.9 543.0,280.1 543.5,280.4 543.9,280.3 544.4,280.2 544.8,280.4 545.3,279.9 545.7,280.1 546.2,279.4 546.6,278.7 547.1,279.4 547.5,279.7 548.0,280.6 548.4,280.1 548.9,280.3 549.3,280.2 549.8,279.6 550.2,279.9 550.7,279.7 551.1,280.4 551.6,280.6 552.0,280.5 552.5,280.4 552.9,280.8 553.4,280.4 553.8,280.1 554.3,280.0 554.7,280.0 555.2,280.4 555.6,279.9 556.1,280.2 556.5,279.6 557.0,280.0 557.4,280.5 557.9,280.3 558.3,280.6 558.8,280.7 559.2,281.1 559.7,281.5 560.1,281.9 560.6,281.4 561.0,280.7 561.5,280.7 561.9,280.9 562.4,280.5 562.8,280.9 563.3,281.1 563.7,281.1 564.2,280.4 564.6,279.8 565.1,279.9 565.5,280.6 566.0,280.7 566.4,281.0 566.9,280.2 567.3,280.0 567.8,280.2 568.2,280.0 568.7,280.3 569.1,280.6 569.6,280.8 570.0,280.6 570.5,280.4 570.9,280.8 571.4,280.7 571.8,281.0 572.3,280.6 572.7,280.2 573.2,280.0 573.6,279.7 574.1,280.4 574.5,280.5 575.0,280.2 575.4,280.2 575.9,279.8 576.3,280.3 576.8,280.2 577.2,279.6 577.7,279.8 578.1,279.7 578.6,280.4 579.0,280.4 579.5,280.7 579.9,280.5 580.4,280.6 580.8,280.5 581.3,279.5 581.7,279.7 582.2,279.6 582.6,279.8 583.1,279.6 583.5,279.5 584.0,279.8 584.4,280.2 584.9,280.7 585.3,281.0 585.8,280.6 586.2,280.4 586.7,279.9 587.1,280.7 587.6,280.4 588.0,280.5 588.5,280.3 588.9,280.1 589.4,280.3 589.8,280.3 590.3,280.9 590.7,280.7 591.2,280.4 591.6,280.9 592.1,281.0 592.5,280.7 593.0,280.9 593.4,280.6 593.9,280.5 594.3,280.5 594.8,280.8 595.2,280.6 595.7,279.6 596.1,279.4 596.6,280.1 597.0,279.7 597.5,280.7 597.9,280.1 598.4,280.3 598.8,280.6 599.3,280.0 599.7,280.2 600.2,280.8 600.6,280.3 601.1,280.2 601.5,280.1 602.0,280.2 602.4,280.3 602.9,280.1 603.3,280.2 603.8,280.5 604.2,280.9 604.7,280.9 605.1,280.3 605.6,280.4 606.0,279.6 606.5,279.8 606.9,280.1 607.4,280.5 607.8,280.7 608.3,280.5 608.7,280.7 609.2,280.8 609.6,280.7 610.1,280.3 610.5,279.9 611.0,280.1 611.4,280.5 611.9,280.4 612.3,279.7 612.8,279.8 613.2,279.6 613.7,280.0 614.1,281.1 614.6,280.6 615.0,280.8 615.5,280.8 615.9,280.6 616.4,280.4 616.8,280.6 617.3,280.4 617.7,280.7 618.2,279.9 618.6,280.3 619.1,280.2 619.5,279.2 620.0,279.5 620.4,279.5 620.9,280.4 621.3,280.8 621.8,280.5 622.2,280.6 622.7,280.5 623.1,280.9 623.6,281.2 624.0,281.1 624.5,281.3 624.9,281.4 625.4,281.2 625.8,280.3 626.3,280.6 626.7,280.6 627.2,280.9 627.6,280.6 628.1,280.0 628.5,280.2 629.0,280.2 629.4,280.8 629.9,280.7 630.3,280.9 630.8,280.9 631.2,280.9 631.7,280.8 632.1,281.0 632.6,280.8 633.0,280.9 633.5,280.6 633.9,280.9 634.4,280.6 634.8,280.4 635.3,281.0 635.7,280.7 636.2,280.7 636.6,280.3 637.1,280.1 637.5,280.5 638.0,280.4 638.4,280.3 638.9,280.8 639.3,280.7 639.8,280.0 640.2,280.0 640.7,279.9 641.1,279.8 641.6,280.0 642.0,280.2 642.5,280.3 642.9,280.6 643.4,280.6 643.8,280.2 644.3,280.7 644.7,280.8 645.2,280.6 645.6,280.5 646.1,281.5 646.5,280.7 647.0,280.4 647.4,280.3 647.9,280.3 648.3,280.3 648.8,280.7 649.2,280.5 649.7,281.0"/>
<polyline fill="none" stroke="#000080" stroke-width="2.2" stroke-linejoin="round" points="79.5,257.5 80.0,257.4 80.4,256.8 80.9,256.8 81.3,256.6 81.8,257.2 82.2,257.9 82.7,257.8 83.1,257.1 83.6,256.6 84.0,257.2 84.5,257.5 84.9,257.3 85.4,257.6 85.8,257.0 86.3,257.0 86.7,257.3 87.2,256.9 87.6,256.9 88.1,256.6 88.5,257.1 89.0,257.4 89.4,258.3 89.9,258.5 90.3,258.0 90.8,257.5 91.2,258.1 91.7,257.6 92.1,258.0 92.6,257.6 93.0,257.5 93.5,257.2 93.9,257.1 94.4,257.3 94.8,256.8 95.3,257.1 95.7,256.8 96.2,256.9 96.6,256.5 97.1,256.6 97.5,257.0 98.0,257.3 98.4,256.5 98.9,256.9 99.3,256.9 99.8,256.3 100.2,256.4 100.7,256.4 101.1,255.8 101.6,255.6 102.0,256.3 102.5,256.0 102.9,256.3 103.4,256.1 103.8,256.6 104.3,256.4 104.7,256.7 105.2,256.4 105.6,256.1 106.1,256.9 106.5,256.7 107.0,256.4 107.4,256.5 107.9,256.2 108.3,255.7 108.8,255.3 109.2,255.5 109.7,255.7 110.1,255.6 110.6,255.6 111.0,255.9 111.5,255.6 111.9,256.1 112.4,255.9 112.8,256.0 113.3,255.7 113.7,256.1 114.2,256.2 114.6,256.3 115.1,256.3 115.5,255.8 116.0,255.5 116.4,255.1 116.9,254.6 117.3,254.8 117.8,255.0 118.2,255.9 118.7,256.3 119.1,256.1 119.6,255.7 120.0,255.6 120.5,255.8 120.9,256.0 121.4,256.2 121.8,256.9 122.3,257.3 122.7,257.0 123.2,256.5 123.6,256.2 124.1,256.0 124.5,255.8 125.0,255.8 125.4,255.7 125.9,255.9 126.3,255.6 126.8,255.5 127.2,256.0 127.7,256.0 128.1,255.6 128.6,255.5 129.0,254.7 129.5,255.1 129.9,254.9 130.4,254.8 130.8,254.9 131.3,255.2 131.7,255.0 132.2,255.3 132.6,256.4 133.1,256.0 133.5,256.3 134.0,255.8 134.4,255.5 134.9,254.7 135.3,254.9 135.8,255.1 136.2,255.4 136.7,255.7 137.1,255.1 137.6,254.3 138.0,254.9 138.5,255.1 138.9,255.0 139.4,254.8 139.8,254.4 140.3,254.7 140.7,254.8 141.2,254.7 141.6,254.7 142.1,254.8 142.5,254.1 143.0,254.5 143.4,254.4 143.9,254.2 144.3,254.4 144.8,254.2 145.2,254.2 145.7,254.1 146.1,254.3 146.6,254.3 147.0,253.7 147.5,253.9 147.9,253.0 148.4,253.1 148.8,253.8 149.3,255.0 149.7,254.6 150.2,254.4 150.6,253.3 151.1,253.3 151.5,253.1 152.0,252.6 152.4,251.9 152.9,252.3 153.3,252.3 153.8,252.2 154.2,251.9 154.7,251.7 155.1,252.5 155.6,253.2 156.0,253.2 156.5,253.8 156.9,253.2 157.4,252.2 157.8,251.2 158.3,250.7 158.7,251.6 159.2,251.2 159.6,250.8 160.1,250.2 160.5,250.5 161.0,251.1 161.4,251.6 161.9,251.8 162.3,252.4 162.8,252.5 163.2,252.2 163.7,252.4 164.1,252.9 164.6,253.2 165.0,253.6 165.5,253.3 165.9,253.7 166.4,253.6 166.8,253.4 167.3,253.3 167.7,253.3 168.2,252.8 168.6,252.4 169.1,251.9 169.5,251.7 170.0,251.4 170.4,251.5 170.9,251.6 171.3,251.5 171.8,251.5 172.2,251.3 172.7,251.9 173.1,252.5 173.6,253.3 174.0,252.6 174.5,252.2 174.9,251.8 175.4,251.9 175.8,251.7 176.3,251.3 176.7,251.2 177.2,251.8 177.6,251.7 178.1,251.9 178.5,251.5 179.0,249.7 179.4,242.1 179.9,232.6 180.3,231.1 180.8,231.3 181.2,232.5 181.7,240.3 182.1,248.7 182.6,250.1 183.0,250.1 183.5,250.2 183.9,249.4 184.4,249.6 184.8,250.5 185.3,251.1 185.7,250.9 186.2,250.1 186.6,250.5 187.1,250.4 187.5,250.2 188.0,250.6 188.4,250.4 188.9,250.6 189.3,250.4 189.8,250.7 190.2,250.4 190.7,250.5 191.1,251.1 191.6,251.0 192.0,250.2 192.5,250.2 192.9,250.0 193.4,249.8 193.8,250.0 194.3,250.1 194.7,250.0 195.2,250.0 195.6,250.0 196.1,249.7 196.5,250.2 197.0,249.7 197.4,249.8 197.9,250.1 198.3,249.9 198.8,249.2 199.2,249.4 199.7,249.5 200.1,249.9 200.6,249.1 201.0,248.4 201.5,248.3 201.9,248.3 202.4,247.9 202.8,248.5 203.3,248.5 203.7,248.5 204.2,248.6 204.6,248.9 205.1,248.7 205.5,248.1 206.0,247.7 206.4,247.3 206.9,247.3 207.3,247.3 207.8,246.9 208.2,246.6 208.7,247.2 209.1,247.0 209.6,246.7 210.0,246.6 210.5,246.3 210.9,245.8 211.4,246.1 211.8,245.8 212.3,245.6 212.7,244.9 213.2,244.6 213.6,245.0 214.1,245.6 214.5,245.6 215.0,245.2 215.4,244.6 215.9,244.6 216.3,243.9 216.8,243.3 217.2,243.8 217.7,244.0 218.1,243.9 218.6,243.7 219.0,243.4 219.5,243.1 219.9,242.8 220.4,242.9 220.8,242.6 221.3,241.2 221.7,241.3 222.2,241.5 222.6,242.1 223.1,241.5 223.5,240.6 224.0,240.2 224.4,240.0 224.9,238.7 225.3,238.6 225.8,238.8 226.2,239.2 226.7,239.0 227.1,238.4 227.6,238.2 228.0,237.2 228.5,236.7 228.9,236.2 229.4,235.8 229.8,235.5 230.3,235.3 230.7,234.0 231.2,233.9 231.6,233.9 232.1,233.7 232.5,233.3 233.0,232.8 233.4,232.1 233.9,231.6 234.3,230.6 234.8,230.0 235.2,229.8 235.7,229.4 236.1,228.5 236.6,227.1 237.0,225.8 237.5,224.8 237.9,223.6 238.4,222.4 238.8,221.3 239.3,219.6 239.7,217.7 240.2,216.5 240.6,214.3 241.1,212.4 241.5,210.9 242.0,208.0 242.4,205.1 242.9,202.0 243.3,199.1 243.8,195.6 244.2,192.6 244.7,189.5 245.1,186.6 245.6,184.1 246.0,180.9 246.5,177.7 246.9,175.2 247.4,173.2 247.8,172.1 248.3,171.5 248.7,171.7 249.2,172.4 249.6,172.4 250.1,173.3 250.5,174.7 251.0,177.1 251.4,180.0 251.9,182.4 252.3,184.6 252.8,187.0 253.2,189.4 253.7,192.5 254.1,195.3 254.6,197.5 255.0,200.0 255.5,201.9 255.9,203.6 256.4,205.7 256.8,206.1 257.3,207.3 257.7,208.0 258.2,209.3 258.6,210.6 259.1,211.5 259.5,212.0 260.0,212.7 260.4,212.5 260.9,213.2 261.3,213.6 261.8,214.5 262.2,214.8 262.7,214.3 263.1,214.2 263.6,213.8 264.0,213.7 264.5,213.3 264.9,213.4 265.4,213.7 265.8,213.6 266.3,213.9 266.7,212.7 267.2,212.5 267.6,213.4 268.1,213.7 268.5,214.1 269.0,214.2 269.4,213.5 269.9,213.4 270.3,212.8 270.8,212.4 271.2,212.6 271.7,212.5 272.1,212.4 272.6,212.5 273.0,212.1 273.5,212.2 273.9,211.9 274.4,212.1 274.8,211.5 275.3,210.4 275.7,209.4 276.2,208.5 276.6,207.6 277.1,206.8 277.5,205.8 278.0,204.1 278.4,203.3 278.9,201.6 279.3,199.9 279.8,196.8 280.2,194.0 280.7,190.9 281.1,188.3 281.6,185.1 282.0,181.2 282.5,177.5 282.9,173.8 283.4,169.7 283.8,166.3 284.3,163.3 284.7,161.4 285.2,160.2 285.6,160.1 286.1,161.2 286.5,163.0 287.0,164.8 287.4,167.4 287.9,170.8 288.3,174.2 288.8,177.6 289.2,180.9 289.7,184.6 290.1,186.7 290.6,188.7 291.0,189.9 291.5,191.5 291.9,192.9 292.4,193.6 292.8,194.9 293.3,195.4 293.7,194.8 294.2,193.0 294.6,191.9 295.1,189.7 295.5,188.0 296.0,185.5 296.4,183.2 296.9,181.1 297.3,178.3 297.8,175.5 298.2,172.4 298.7,169.8 299.1,167.0 299.6,163.9 300.0,162.2 300.5,159.8 300.9,158.4 301.4,156.8 301.8,156.2 302.3,156.9 302.7,157.2 303.2,158.2 303.6,159.2 304.1,161.8 304.5,164.0 305.0,166.1 305.4,168.5 305.9,171.2 306.3,174.5 306.8,177.5 307.2,181.3 307.7,185.0 308.1,187.8 308.6,190.3 309.0,192.6 309.5,195.3 309.9,198.1 310.4,200.4 310.8,202.0 311.3,203.1 311.7,204.6 312.2,205.8 312.6,206.2 313.1,207.6 313.5,208.9 314.0,210.6 314.4,210.5 314.9,210.7 315.3,211.5 315.8,212.4 316.2,212.9 316.7,213.6 317.1,214.0 317.6,214.4 318.0,214.7 318.5,215.1 318.9,215.1 319.4,214.9 319.8,214.4 320.3,214.5 320.7,214.8 321.2,214.8 321.6,214.4 322.1,214.4 322.5,214.3 323.0,214.1 323.4,214.5 323.9,213.5 324.3,212.5 324.8,211.6 325.2,212.2 325.7,212.1 326.1,212.3 326.6,211.7 327.0,211.2 327.5,210.8 327.9,210.1 328.4,209.1 328.8,207.6 329.3,206.4 329.7,205.1 330.2,204.4 330.6,203.6 331.1,202.7 331.5,201.4 332.0,200.1 332.4,198.9 332.9,197.7 333.3,197.7 333.8,197.3 334.2,197.8 334.7,198.0 335.1,199.1 335.6,200.5 336.0,201.9 336.5,203.6 336.9,205.1 337.4,207.3 337.8,208.9 338.3,210.6 338.7,211.8 339.2,212.7 339.6,213.9 340.1,214.6 340.5,214.7 341.0,215.6 341.4,216.4 341.9,217.1 342.3,217.5 342.8,218.9 343.2,219.7 343.7,220.3 344.1,220.6 344.6,221.3 345.0,221.9 345.5,222.0 345.9,222.4 346.4,222.3 346.8,222.9 347.3,222.8 347.7,223.8 348.2,223.8 348.6,223.4 349.1,223.6 349.5,224.2 350.0,224.2 350.4,224.1 350.9,224.2 351.3,224.6 351.8,224.5 352.2,224.3 352.7,225.0 353.1,225.1 353.6,225.5 354.0,225.9 354.5,226.0 354.9,225.9 355.4,226.1 355.8,225.8 356.3,226.2 356.7,226.1 357.2,226.4 357.6,226.8 358.1,227.5 358.5,227.4 359.0,227.1 359.4,226.6 359.9,226.9 360.3,226.7 360.8,227.8 361.2,227.1 361.7,227.1 362.1,226.9 362.6,226.9 363.0,226.9 363.5,226.6 363.9,226.5 364.4,226.2 364.8,226.5 365.3,226.7 365.7,227.4 366.2,226.6 366.6,226.6 367.1,227.1 367.5,227.7 368.0,227.2 368.4,226.7 368.9,226.5 369.3,226.3 369.8,225.9 370.2,225.9 370.7,226.1 371.1,226.5 371.6,226.4 372.0,226.1 372.5,225.6 372.9,225.3 373.4,225.3 373.8,224.9 374.3,224.8 374.7,224.3 375.2,223.9 375.6,223.2 376.1,222.0 376.5,221.3 377.0,221.4 377.4,221.1 377.9,220.5 378.3,219.6 378.8,219.4 379.2,219.7 379.7,218.9 380.1,218.3 380.6,217.5 381.0,216.5 381.5,215.9 381.9,215.4 382.4,215.4 382.8,215.1 383.3,214.9 383.7,214.2 384.2,212.9 384.6,212.2 385.1,211.4 385.5,211.1 386.0,210.6 386.4,210.8 386.9,210.4 387.3,209.7 387.8,209.3 388.2,208.9 388.7,208.9 389.1,209.1 389.6,209.0 390.0,208.7 390.5,207.9 390.9,207.9 391.4,207.4 391.8,208.0 392.3,207.5 392.7,206.9 393.2,206.6 393.6,206.5 394.1,206.0 394.5,205.2 395.0,205.3 395.4,204.7 395.9,204.9 396.3,204.7 396.8,204.8 397.2,204.5 397.7,203.9 398.1,204.0 398.6,204.6 399.0,205.0 399.5,205.2 399.9,204.9 400.4,205.5 400.8,205.7 401.3,205.5 401.7,205.2 402.2,205.6 402.6,205.8 403.1,205.9 403.5,206.7 404.0,206.8 404.4,207.3 404.9,207.8 405.3,208.8 405.8,208.7 406.2,209.1 406.7,210.1 407.1,210.7 407.6,211.6 408.0,211.1 408.5,211.6 408.9,211.9 409.4,212.5 409.8,213.9 410.3,214.3 410.7,215.0 411.2,215.4 411.6,215.9 412.1,216.6 412.5,216.9 413.0,217.9 413.4,218.6 413.9,218.7 414.3,219.0 414.8,219.7 415.2,220.3 415.7,221.3 416.1,222.1 416.6,222.9 417.0,223.9 417.5,225.0 417.9,225.9 418.4,226.1 418.8,226.4 419.3,226.3 419.7,226.6 420.2,227.9 420.6,228.5 421.1,229.0 421.5,229.6 422.0,230.0 422.4,230.4 422.9,231.6 423.3,231.9 423.8,232.0 424.2,232.5 424.7,233.0 425.1,233.1 425.6,233.7 426.0,234.0 426.5,234.7 426.9,234.8 427.4,235.2 427.8,234.5 428.3,235.2 428.7,235.7 429.2,236.1 429.6,236.3 430.1,235.9 430.5,235.9 431.0,236.2 431.4,236.3 431.9,237.1 432.3,237.5 432.8,238.0 433.2,237.6 433.7,238.0 434.1,238.1 434.6,239.0 435.0,239.9 435.5,240.1 435.9,240.3 436.4,240.8 436.8,240.6 437.3,240.7 437.7,239.9 438.2,240.6 438.6,240.6 439.1,240.6 439.5,241.0 440.0,240.8 440.4,240.7 440.9,241.1 441.3,241.4 441.8,242.1 442.2,241.7 442.7,241.8 443.1,241.8 443.6,242.3 444.0,242.2 444.5,242.2 444.9,241.9 445.4,242.0 445.8,241.7 446.3,242.4 446.7,242.2 447.2,242.1 447.6,243.3 448.1,243.6 448.5,243.7 449.0,243.5 449.4,243.0 449.9,243.8 450.3,243.8 450.8,244.9 451.2,244.2 451.7,243.5 452.1,244.0 452.6,244.7 453.0,244.7 453.5,244.6 453.9,243.9 454.4,243.3 454.8,243.1 455.3,244.0 455.7,243.9 456.2,244.4 456.6,244.3 457.1,244.4 457.5,244.9 458.0,244.5 458.4,244.3 458.9,243.9 459.3,244.3 459.8,244.8 460.2,244.9 460.7,244.5 461.1,243.7 461.6,243.6 462.0,243.0 462.5,242.9 462.9,242.9 463.4,242.0 463.8,241.3 464.3,241.5 464.7,241.9 465.2,242.6 465.6,241.9 466.1,241.6 466.5,241.6 467.0,241.7 467.4,241.3 467.9,241.6 468.3,241.2 468.8,241.1 469.2,241.3 469.7,242.7 470.1,243.5 470.6,243.4 471.0,244.1 471.5,244.2 471.9,244.5 472.4,245.4 472.8,245.8 473.3,246.3 473.7,246.3 474.2,246.5 474.6,245.9 475.1,246.3 475.5,246.5 476.0,246.9 476.4,247.4 476.9,247.5 477.3,247.7 477.8,247.7 478.2,247.7 478.7,247.8 479.1,247.8 479.6,247.8 480.0,247.5 480.5,247.2 480.9,247.0 481.4,247.4 481.8,247.5 482.3,247.2 482.7,247.9 483.2,247.1 483.6,248.2 484.1,248.8 484.5,248.9 485.0,249.3 485.4,248.6 485.9,248.2 486.3,248.5 486.8,247.8 487.2,248.0 487.7,248.4 488.1,248.5 488.6,248.4 489.0,248.2 489.5,247.5 489.9,247.5 490.4,247.6 490.8,248.1 491.3,249.2 491.7,250.0 492.2,250.2 492.6,249.8 493.1,249.3 493.5,248.7 494.0,248.7 494.4,248.9 494.9,248.4 495.3,248.7 495.8,249.1 496.2,249.3 496.7,249.7 497.1,249.6 497.6,249.8 498.0,249.5 498.5,249.3 498.9,249.5 499.4,249.2 499.8,249.2 500.3,249.6 500.7,249.9 501.2,249.4 501.6,249.9 502.1,249.9 502.5,249.6 503.0,250.0 503.4,250.1 503.9,250.1 504.3,250.2 504.8,249.8 505.2,250.1 505.7,249.9 506.1,250.0 506.6,249.6 507.0,249.8 507.5,250.1 507.9,249.4 508.4,249.1 508.8,249.8 509.3,250.4 509.7,250.6 510.2,249.8 510.6,249.1 511.1,249.4 511.5,249.4 512.0,250.1 512.4,249.4 512.9,250.4 513.3,249.5 513.8,249.8 514.2,249.7 514.7,249.3 515.1,249.2 515.6,248.7 516.0,248.3 516.5,248.7 516.9,248.3 517.4,247.0 517.8,245.8 518.3,245.6 518.7,245.4 519.2,245.0 519.6,244.6 520.1,243.8 520.5,243.0 521.0,241.5 521.4,241.4 521.9,236.4 522.3,222.1 522.8,214.1 523.2,212.6 523.7,212.4 524.1,212.3 524.6,211.7 525.0,211.2 525.5,211.8 525.9,212.8 526.4,219.7 526.8,233.8 527.3,240.0 527.7,240.6 528.2,241.6 528.6,242.5 529.1,242.6 529.5,244.3 530.0,244.7 530.4,245.2 530.9,245.4 531.3,246.4 531.8,246.7 532.2,247.9 532.7,248.3 533.1,249.2 533.6,249.1 534.0,249.9 534.5,250.4 534.9,251.0 535.4,251.0 535.8,251.7 536.3,251.1 536.7,250.9 537.2,250.9 537.6,251.7 538.1,252.2 538.5,252.6 539.0,252.5 539.4,251.9 539.9,252.1 540.3,252.3 540.8,253.1 541.2,253.1 541.7,252.8 542.1,252.6 542.6,253.0 543.0,252.7 543.5,252.2 543.9,251.7 544.4,251.7 544.8,253.1 545.3,253.4 545.7,254.4 546.2,253.3 546.6,252.7 547.1,253.0 547.5,252.7 548.0,252.9 548.4,253.0 548.9,253.4 549.3,253.7 549.8,253.7 550.2,253.3 550.7,253.4 551.1,254.3 551.6,254.6 552.0,254.5 552.5,254.4 552.9,254.0 553.4,254.6 553.8,254.0 554.3,254.1 554.7,254.2 555.2,254.1 555.6,254.0 556.1,254.1 556.5,254.1 557.0,253.7 557.4,253.2 557.9,253.2 558.3,253.7 558.8,254.0 559.2,254.1 559.7,254.0 560.1,254.2 560.6,253.8 561.0,253.8 561.5,253.8 561.9,253.8 562.4,253.9 562.8,253.6 563.3,253.4 563.7,253.6 564.2,253.9 564.6,254.3 565.1,254.5 565.5,255.0 566.0,254.8 566.4,254.1 566.9,253.8 567.3,253.2 567.8,253.8 568.2,254.1 568.7,254.4 569.1,254.5 569.6,255.2 570.0,255.2 570.5,254.3 570.9,254.3 571.4,254.1 571.8,254.1 572.3,253.5 572.7,253.4 573.2,253.7 573.6,254.5 574.1,254.5 574.5,254.9 575.0,255.5 575.4,254.9 575.9,254.4 576.3,254.4 576.8,253.9 577.2,253.6 577.7,254.3 578.1,254.3 578.6,254.1 579.0,253.8 579.5,253.9 579.9,253.9 580.4,254.2 580.8,254.3 581.3,254.9 581.7,254.7 582.2,254.1 582.6,254.5 583.1,254.6 583.5,254.2 584.0,254.3 584.4,254.7 584.9,255.5 585.3,255.3 585.8,255.2 586.2,254.2 586.7,254.7 587.1,254.1 587.6,254.0 588.0,254.9 588.5,255.0 588.9,255.1 589.4,254.9 589.8,254.6 590.3,254.3 590.7,254.5 591.2,254.6 591.6,254.9 592.1,255.4 592.5,254.8 593.0,254.6 593.4,254.2 593.9,254.2 594.3,254.5 594.8,255.0 595.2,255.4 595.7,255.2 596.1,255.4 596.6,255.0 597.0,255.2 597.5,254.8 597.9,254.6 598.4,254.6 598.8,254.7 599.3,255.0 599.7,254.2 600.2,254.3 600.6,254.1 601.1,254.3 601.5,254.3 602.0,254.5 602.4,254.7 602.9,254.9 603.3,255.0 603.8,255.2 604.2,255.4 604.7,254.9 605.1,254.8 605.6,254.6 606.0,254.5 606.5,254.6 606.9,254.6 607.4,255.0 607.8,254.5 608.3,254.5 608.7,255.0 609.2,254.7 609.6,254.9 610.1,255.1 610.5,255.2 611.0,255.4 611.4,255.5 611.9,255.1 612.3,255.1 612.8,254.8 613.2,254.9 613.7,254.6 614.1,254.8 614.6,254.4 615.0,255.0 615.5,254.6 615.9,254.4 616.4,254.4 616.8,254.6 617.3,255.0 617.7,254.8 618.2,253.9 618.6,253.8 619.1,253.7 619.5,253.6 620.0,253.8 620.4,253.7 620.9,254.0 621.3,253.9 621.8,254.6 622.2,255.0 622.7,255.0 623.1,254.9 623.6,255.2 624.0,254.9 624.5,255.1 624.9,255.4 625.4,255.6 625.8,255.8 626.3,255.2 626.7,254.6 627.2,254.3 627.6,254.9 628.1,255.4 628.5,255.6 629.0,255.7 629.4,255.3 629.9,255.5 630.3,255.1 630.8,254.6 631.2,255.4 631.7,255.1 632.1,256.0 632.6,255.1 633.0,254.5 633.5,253.9 633.9,254.9 634.4,254.4 634.8,254.6 635.3,255.1 635.7,255.0 636.2,255.0 636.6,255.4 637.1,255.0 637.5,255.3 638.0,255.0 638.4,254.7 638.9,253.8 639.3,254.3 639.8,254.5 640.2,255.3 640.7,254.8 641.1,255.4 641.6,255.3 642.0,255.9 642.5,256.1 642.9,256.6 643.4,256.4 643.8,255.8 644.3,255.5 644.7,255.3 645.2,255.5 645.6,254.9 646.1,254.8 646.5,254.7 647.0,255.0 647.4,255.3 647.9,255.0 648.3,255.0 648.8,254.5 649.2,254.8 649.7,254.8"/>
<rect x="78.3" y="12.3" width="572" height="421.7" fill="none" stroke="#000" stroke-width="3.3" stroke-linejoin="round"/>
<line x1="78.60" y1="434" x2="78.60" y2="442.5" stroke="#000" stroke-width="3" stroke-linecap="round"/><line x1="126.27" y1="434" x2="126.27" y2="439" stroke="#000" stroke-width="3" stroke-linecap="round"/><line x1="173.95" y1="434" x2="173.95" y2="442.5" stroke="#000" stroke-width="3" stroke-linecap="round"/><line x1="221.62" y1="434" x2="221.62" y2="439" stroke="#000" stroke-width="3" stroke-linecap="round"/><line x1="269.30" y1="434" x2="269.30" y2="442.5" stroke="#000" stroke-width="3" stroke-linecap="round"/><line x1="316.98" y1="434" x2="316.98" y2="439" stroke="#000" stroke-width="3" stroke-linecap="round"/><line x1="364.65" y1="434" x2="364.65" y2="442.5" stroke="#000" stroke-width="3" stroke-linecap="round"/><line x1="412.33" y1="434" x2="412.33" y2="439" stroke="#000" stroke-width="3" stroke-linecap="round"/><line x1="460.00" y1="434" x2="460.00" y2="442.5" stroke="#000" stroke-width="3" stroke-linecap="round"/><line x1="507.67" y1="434" x2="507.67" y2="439" stroke="#000" stroke-width="3" stroke-linecap="round"/><line x1="555.35" y1="434" x2="555.35" y2="442.5" stroke="#000" stroke-width="3" stroke-linecap="round"/><line x1="603.02" y1="434" x2="603.02" y2="439" stroke="#000" stroke-width="3" stroke-linecap="round"/><line x1="650.70" y1="434" x2="650.70" y2="442.5" stroke="#000" stroke-width="3" stroke-linecap="round"/>
<g font-size="25.6" font-weight="bold" text-anchor="middle"><text transform="translate(77.55,467.6) scale(0.89,1)" letter-spacing="1">5</text><text transform="translate(173.64999999999998,467.6) scale(0.89,1)" letter-spacing="1">10</text><text transform="translate(269.4,467.6) scale(0.89,1)" letter-spacing="1">15</text><text transform="translate(363.55,467.6) scale(0.89,1)" letter-spacing="1">20</text><text transform="translate(459.25,467.6) scale(0.89,1)" letter-spacing="1">25</text><text transform="translate(554.75,467.6) scale(0.89,1)" letter-spacing="1">30</text><text transform="translate(650.2,467.6) scale(0.89,1)" letter-spacing="1">35</text></g>
<text font-size="33.3" font-weight="bold" transform="translate(37.8,349) rotate(-90)">Intensity (a.u.)</text>
<text font-size="30.2" font-weight="bold" transform="translate(326.5,504.5) scale(1,1.11)">2</text>
<text font-size="30.8" class="sf" stroke="#000" stroke-width="0.5" transform="translate(352.6,504.4) scale(1.2,1)">θ</text>
<text font-size="29" class="sf" stroke="#000" stroke-width="0.6" transform="translate(376.8,500.8) scale(1.12,1)">(</text>
<text font-size="18" class="sf" stroke="#000" stroke-width="0.3" transform="translate(387.3,490.2) scale(1.25,1)">o</text>
<text font-size="29" class="sf" stroke="#000" stroke-width="0.6" transform="translate(399.6,500.8) scale(1.12,1)">)</text>
<line x1="415" y1="31.40" x2="462.3" y2="31.40" stroke="#000000" stroke-width="2.3"/>
<text transform="translate(470.85,38.00) scale(0.86,1)" font-size="20.5" stroke="#000" stroke-width="0.75" letter-spacing="2.7">O-Sep</text>
<line x1="415" y1="58.42" x2="462.3" y2="58.42" stroke="#ff0000" stroke-width="2.3"/>
<text transform="translate(470.85,65.40) scale(0.86,1)" font-size="20.5" stroke="#000" stroke-width="0.75" letter-spacing="2.7">PP</text>
<line x1="415" y1="85.44" x2="462.3" y2="85.44" stroke="#0000ff" stroke-width="2.3"/>
<text transform="translate(470.85,92.80) scale(0.86,1)" font-size="20.5" stroke="#000" stroke-width="0.75" letter-spacing="2.7">PP/ABS</text>
<line x1="415" y1="112.46" x2="462.3" y2="112.46" stroke="#008080" stroke-width="2.3"/>
<text transform="translate(470.85,120.20) scale(0.86,1)" font-size="20.5" stroke="#000" stroke-width="0.75" letter-spacing="2.7">PP/ABS/O-Sep1</text>
<line x1="415" y1="139.48" x2="462.3" y2="139.48" stroke="#ff00ff" stroke-width="2.3"/>
<text transform="translate(470.85,147.60) scale(0.86,1)" font-size="20.5" stroke="#000" stroke-width="0.75" letter-spacing="2.7">PP/ABS/O-Sep3</text>
<line x1="415" y1="166.50" x2="462.3" y2="166.50" stroke="#808000" stroke-width="2.3"/>
<text transform="translate(470.85,175.00) scale(0.86,1)" font-size="20.5" stroke="#000" stroke-width="0.75" letter-spacing="2.7">PP/ABS/O-Sep5</text>
<line x1="415" y1="193.52" x2="462.3" y2="193.52" stroke="#000080" stroke-width="2.3"/>
<text transform="translate(470.85,202.40) scale(0.86,1)" font-size="20.5" stroke="#000" stroke-width="0.75" letter-spacing="2.7">PP/ABS/O-Sep7</text>
<text x="195.7" y="104.5" font-size="24.4" letter-spacing="0.8">(300)β</text>
<text x="138.7" y="221" font-size="24" letter-spacing="1.1">10.38</text>
<line x1="234.7" y1="114.2" x2="270" y2="147" stroke="#000" stroke-width="2.1" stroke-linecap="round"/><path d="M278.5,153 L263,148.8 L268.8,145.6 L272.8,139.2 Z" fill="#000"/>
</svg>
</body></html>
